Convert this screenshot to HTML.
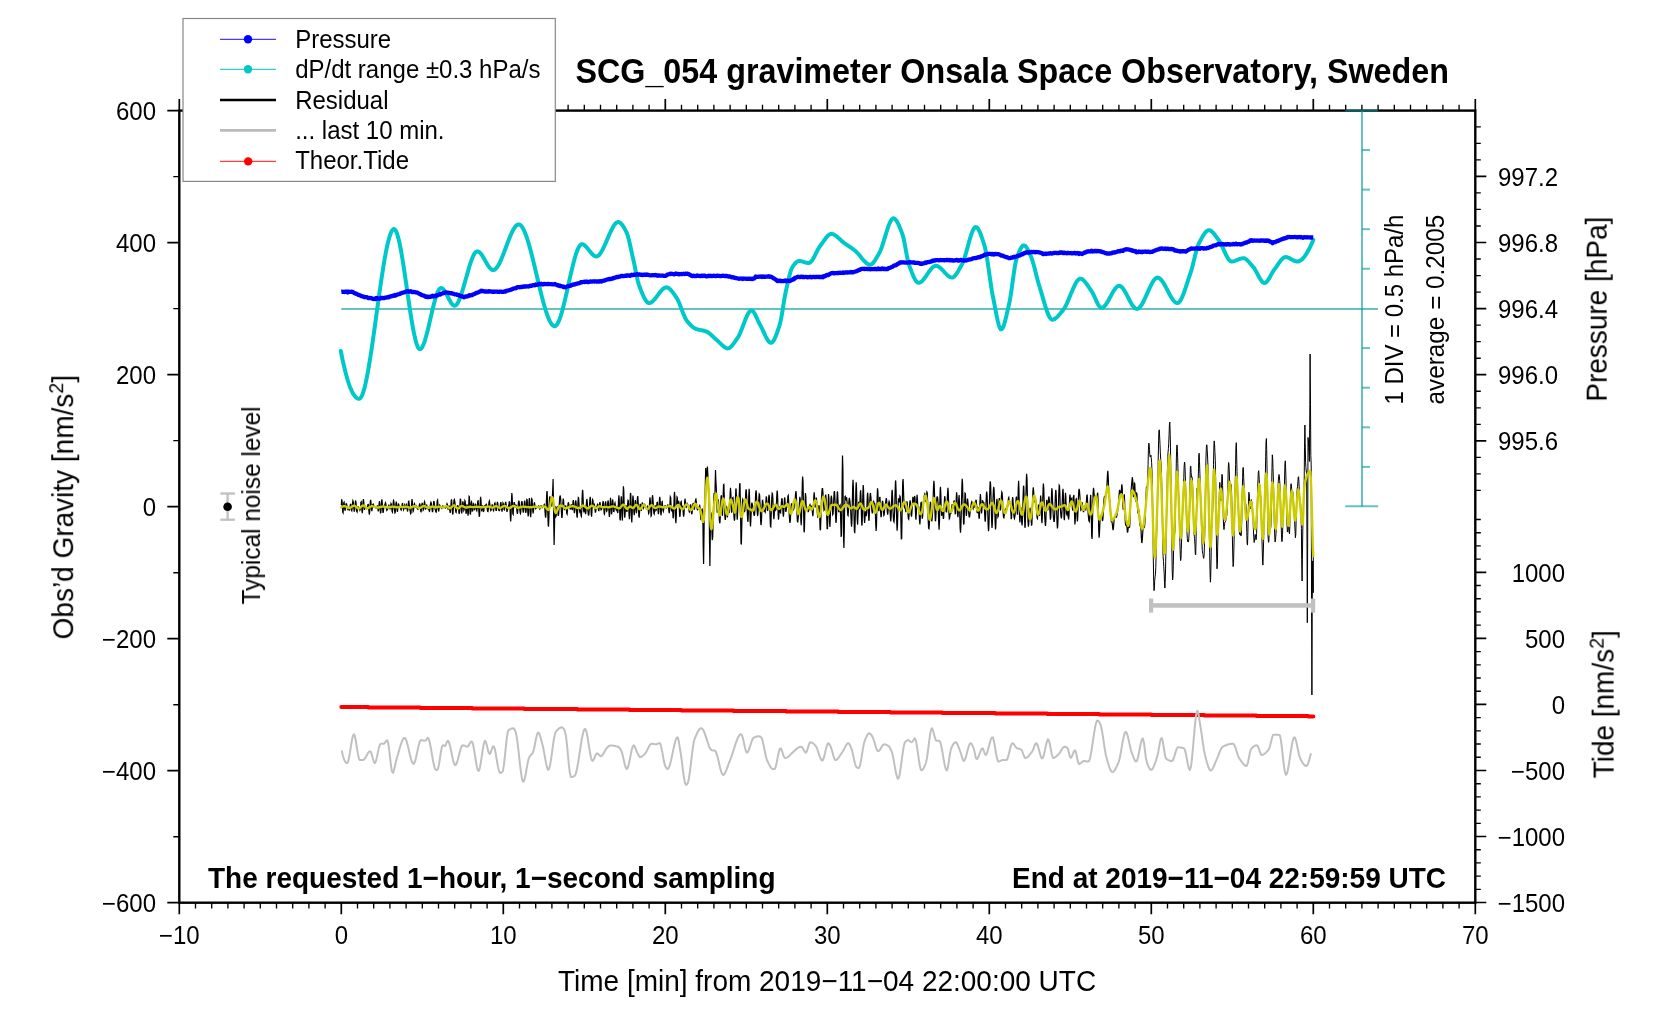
<!DOCTYPE html>
<html><head><meta charset="utf-8"><title>SCG_054 gravimeter</title><style>
html,body{margin:0;padding:0;background:#fff;overflow:hidden;}
svg{display:block;}
text{font-family:"Liberation Sans",sans-serif;fill:#000;}
.b{font-weight:bold;}
</style></head><body>
<svg width="1676" height="1020" viewBox="0 0 1676 1020">
<rect width="1676" height="1020" fill="#fff"/>
<g fill="none" stroke-linejoin="round" stroke-linecap="round">
<polyline points="341.3,707 368.3,707 368.3,707.5 420.3,707.5 420.3,708 472.3,708 472.3,708.5 524.3,708.5 524.3,709 577.3,709 577.3,709.5 629.3,709.5 629.3,710 681.3,710 681.3,710.5 733.3,710.5 733.3,711 786.3,711 786.3,711.5 838.3,711.5 838.3,712 890.3,712 890.3,712.5 942.3,712.5 942.3,713 995.3,713 995.3,713.5 1047.3,713.5 1047.3,714 1099.3,714 1099.3,714.5 1151.3,714.5 1151.3,715 1204.3,715 1204.3,715.5 1256.3,715.5 1256.3,716 1308.3,716 1308.3,716.5 1313.3,716.5" fill="none" stroke="#ff0000" stroke-width="4" stroke-linejoin="round" stroke-linecap="round"/>
<polyline points="341.9,751.2 342.9,755.7 343.9,759 344.9,761.2 345.9,762.5 346.9,763.1 347.9,762.3 348.9,758.6 349.9,752.9 350.9,746.3 351.9,740.2 352.9,735.7 353.9,734.2 354.9,736.3 355.9,741.3 356.9,747.7 357.9,753.9 358.9,758.5 359.9,760.1 360.9,760.1 361.9,760.1 362.9,760.1 363.9,759.6 364.9,758.4 365.9,756.7 366.9,754.9 367.9,753.2 368.9,751.9 369.9,751.2 370.9,751.9 371.9,754.9 372.9,758.8 373.9,762 374.9,763 375.9,761.1 376.9,757.2 377.9,752.4 378.9,747.9 379.9,744.6 380.9,743.7 381.9,743.7 382.9,743.7 383.9,743.7 384.9,742.7 385.9,741.3 386.9,740.2 387.9,741.5 388.9,747.5 389.9,756.2 390.9,765 391.9,771.3 392.9,772.8 393.9,770.6 394.9,766.5 395.9,761.8 396.9,757.7 397.9,754.5 398.9,751.1 399.9,747.6 400.9,744.3 401.9,741.5 402.9,739.3 403.9,738 404.9,737.9 405.9,739.3 406.9,742.2 407.9,746 408.9,750.3 409.9,754.7 410.9,758.6 411.9,761.8 412.9,763.6 413.9,763.8 414.9,761.8 415.9,758.2 416.9,753.6 417.9,748.9 418.9,744.6 419.9,741.4 420.9,740.1 421.9,740.2 422.9,740.4 423.9,740.6 424.9,740.7 425.9,740.4 426.9,738.7 427.9,737.7 428.9,739.3 429.9,743.1 430.9,748.3 431.9,754.2 432.9,760 433.9,765.1 434.9,768.7 435.9,770 436.9,770 437.9,769.3 438.9,765 439.9,758.6 440.9,751.9 441.9,746.8 442.9,745.2 443.9,745.7 444.9,746.1 445.9,744.5 446.9,741.9 447.9,740.7 448.9,742.1 449.9,745.4 450.9,749.8 451.9,754.7 452.9,759.4 453.9,763 454.9,765 455.9,764.8 456.9,762.7 457.9,759.5 458.9,755.6 459.9,751.6 460.9,748.2 461.9,745.9 462.9,745.2 463.9,745.4 464.9,745.9 465.9,746.4 466.9,746.7 467.9,746.3 468.9,744.9 469.9,743.2 470.9,741.7 471.9,741.4 472.9,743.8 473.9,748.7 474.9,754.9 475.9,761.3 476.9,766.9 477.9,770.4 478.9,770.9 479.9,767.7 480.9,762.1 481.9,755.3 482.9,748.7 483.9,743.4 484.9,740.8 485.9,741.9 486.9,745.5 487.9,749.9 488.9,753.3 489.9,754 490.9,752 491.9,748.9 492.9,746.5 493.9,746.4 494.9,749.4 495.9,754.5 496.9,760.5 497.9,766.4 498.9,770.9 499.9,772.9 500.9,772.8 501.9,772.3 502.9,771 503.9,765.1 504.9,756.1 505.9,746.1 506.9,737.1 507.9,731.3 508.9,729.9 509.9,729.3 510.9,728.8 511.9,728.4 512.9,728.2 513.9,728.4 514.9,730.2 515.9,732.9 516.9,738.2 517.9,745.7 518.9,754.6 519.9,763.6 520.9,771.8 521.9,778.2 522.9,781.6 523.9,781.3 524.9,778 525.9,773 526.9,767.2 527.9,761.8 528.9,757.9 529.9,756.1 530.9,755 531.9,754 532.9,752.5 533.9,749.3 534.9,744.5 535.9,739.3 536.9,734.9 537.9,732.5 538.9,732.9 539.9,735.3 540.9,738.8 541.9,742.6 542.9,746.3 543.9,751.3 544.9,757 545.9,762.6 546.9,767.1 547.9,769.7 548.9,769.4 549.9,766 550.9,760.3 551.9,753.3 552.9,745.9 553.9,739.2 554.9,734.2 555.9,731.6 556.9,730.5 557.9,729.5 558.9,728.6 559.9,727.9 560.9,727.5 561.9,727.3 562.9,727.8 563.9,729.3 564.9,731.4 565.9,735.7 566.9,744.2 567.9,754.7 568.9,765.2 569.9,773.3 570.9,777.1 571.9,777 572.9,776.7 573.9,776.3 574.9,775.6 575.9,773.4 576.9,769.3 577.9,763.9 578.9,757.7 579.9,751.1 580.9,744.6 581.9,738.6 582.9,733.7 583.9,730.3 584.9,728.8 585.9,730 586.9,733.8 587.9,739.4 588.9,745.8 589.9,752 590.9,757.2 591.9,760.4 592.9,760.8 593.9,759.2 594.9,756.7 595.9,754.4 596.9,753.3 597.9,753.7 598.9,754.7 599.9,755.8 600.9,756.2 601.9,755.7 602.9,754.5 603.9,752.8 604.9,751 605.9,749.2 606.9,747.8 607.9,746.9 608.9,746.1 609.9,745.6 610.9,745.5 611.9,745.5 612.9,745.6 613.9,745.8 614.9,745.9 615.9,746.2 616.9,746.4 617.9,746.7 618.9,747.3 619.9,748.4 620.9,749.8 621.9,752.3 622.9,756.3 623.9,760.8 624.9,765 625.9,768 626.9,769 627.9,767.4 628.9,763.7 629.9,758.9 630.9,753.7 631.9,749.1 632.9,746 633.9,745.3 634.9,746.8 635.9,749.4 636.9,752 637.9,753.9 638.9,755.8 639.9,757 640.9,757 641.9,756.5 642.9,755.8 643.9,754.9 644.9,753.9 645.9,752.6 646.9,750.7 647.9,748.6 648.9,746.6 649.9,745 650.9,743.9 651.9,743.7 652.9,743.8 653.9,744.1 654.9,744.2 655.9,744.3 656.9,744 657.9,743.6 658.9,743.2 659.9,743.2 660.9,745.6 661.9,750.1 662.9,755.6 663.9,761.1 664.9,765.3 665.9,767.4 666.9,768.7 667.9,769 668.9,767.7 669.9,764.9 670.9,761 671.9,756.5 672.9,751.6 673.9,746.9 674.9,742.7 675.9,739.4 676.9,737.5 677.9,737.6 678.9,741.9 679.9,748.4 680.9,754.4 681.9,761.7 682.9,769.8 683.9,777.3 684.9,782.8 685.9,784.9 686.9,784.4 687.9,782.9 688.9,778.5 689.9,771.6 690.9,763.4 691.9,755 692.9,747.3 693.9,741.5 694.9,738.3 695.9,735.8 696.9,733.6 697.9,731.6 698.9,730 699.9,728.9 700.9,728.3 701.9,728.3 702.9,729.4 703.9,731.3 704.9,733.9 705.9,736.8 706.9,739.9 707.9,743 708.9,745.8 709.9,748.1 710.9,749.6 711.9,750.3 712.9,750.4 713.9,750.5 714.9,750.6 715.9,751.8 716.9,754.6 717.9,758.3 718.9,762.6 719.9,766.9 720.9,770.7 721.9,773.5 722.9,775 723.9,774.7 724.9,773.4 725.9,771.2 726.9,768.6 727.9,765.8 728.9,763 729.9,760.6 730.9,758.1 731.9,755.2 732.9,752.2 733.9,749 734.9,745.9 735.9,742.9 736.9,740.2 737.9,737.8 738.9,736 739.9,734.7 740.9,734.2 741.9,735.1 742.9,738.3 743.9,742.7 744.9,747.3 745.9,750.9 746.9,752.6 747.9,752 748.9,749.9 749.9,746.9 750.9,743.7 751.9,740.7 752.9,738.5 753.9,737.6 754.9,737.2 755.9,736.8 756.9,736.5 757.9,736.3 758.9,736.2 759.9,736.5 760.9,737 761.9,738.6 762.9,742.1 763.9,746.8 764.9,751.9 765.9,756.5 766.9,759.8 767.9,762 768.9,764.1 769.9,766 770.9,767.6 771.9,768.6 772.9,769.1 773.9,769.1 774.9,768.8 775.9,766.1 776.9,761.5 777.9,756.3 778.9,751.6 779.9,748.7 780.9,748.5 781.9,750.6 782.9,753.8 783.9,756.7 784.9,758 785.9,757.9 786.9,757.6 787.9,757.1 788.9,756.3 789.9,755.2 790.9,754.1 791.9,753.2 792.9,752.3 793.9,751.3 794.9,750.4 795.9,749.5 796.9,748.6 797.9,747.9 798.9,747.3 799.9,746.9 800.9,746.7 801.9,747 802.9,748.4 803.9,750.3 804.9,752 805.9,752.6 806.9,751.1 807.9,747.9 808.9,744.6 809.9,742.4 810.9,742.3 811.9,742.6 812.9,743.2 813.9,744.1 814.9,745.1 815.9,746.3 816.9,747.9 817.9,750.9 818.9,754.2 819.9,757 820.9,759.1 821.9,760.6 822.9,760.1 823.9,757.4 824.9,753.5 825.9,749.2 826.9,745.5 827.9,743.3 828.9,743.5 829.9,745.1 830.9,747.2 831.9,750.4 832.9,754.1 833.9,757.5 834.9,759.7 835.9,760.1 836.9,759.5 837.9,758.5 838.9,757.2 839.9,755.7 840.9,754.2 841.9,752.7 842.9,751.2 843.9,749.4 844.9,747.4 845.9,745.5 846.9,744 847.9,743.2 848.9,743.4 849.9,745 850.9,747.3 851.9,749.9 852.9,754.1 853.9,758.8 854.9,763.3 855.9,766.3 856.9,767.4 857.9,768 858.9,768.1 859.9,765.9 860.9,761.2 861.9,755.2 862.9,748.9 863.9,743.6 864.9,740.3 865.9,737.9 866.9,735.8 867.9,734.1 868.9,733.3 869.9,733.5 870.9,734.5 871.9,735.9 872.9,737.6 873.9,740.5 874.9,743.8 875.9,747.1 876.9,749.8 877.9,751.1 878.9,750.9 879.9,749.7 880.9,748.1 881.9,746.4 882.9,745 883.9,744.3 884.9,744.4 885.9,744.6 886.9,745.1 887.9,745.6 888.9,746.3 889.9,747.7 890.9,749.7 891.9,752.1 892.9,756.1 893.9,761.4 894.9,767.2 895.9,772.6 896.9,776.8 897.9,778.8 898.9,777.7 899.9,773.2 900.9,766.5 901.9,758.9 902.9,751.5 903.9,745.6 904.9,742.3 905.9,741.2 906.9,740.5 907.9,740.1 908.9,740.4 909.9,741.2 910.9,741.9 911.9,742.2 912.9,741.1 913.9,739.2 914.9,738.3 915.9,740.6 916.9,745.9 917.9,752.8 918.9,760.1 919.9,766.3 920.9,770 921.9,770.4 922.9,769.4 923.9,767.7 924.9,765.5 925.9,763 926.9,758.6 927.9,751.5 928.9,743.4 929.9,735.8 930.9,730.2 931.9,728.2 932.9,730 933.9,733.7 934.9,737.7 935.9,740.4 936.9,740.7 937.9,740.7 938.9,740.7 939.9,741.3 940.9,744.3 941.9,749.1 942.9,754.9 943.9,760.8 944.9,765.9 945.9,769.5 946.9,770.5 947.9,767.4 948.9,761.2 949.9,754.3 950.9,749.1 951.9,746.8 952.9,744.9 953.9,743.4 954.9,742.5 955.9,742.2 956.9,743.2 957.9,745.3 958.9,747.9 959.9,750.5 960.9,753.3 961.9,756.9 962.9,759.9 963.9,761 964.9,759.7 965.9,756.9 966.9,753.2 967.9,749.3 968.9,745.9 969.9,743.7 970.9,743.2 971.9,744.4 972.9,746.5 973.9,749 974.9,753.6 975.9,758 976.9,759.1 977.9,757.8 978.9,755.5 979.9,752.8 980.9,750.3 981.9,748.5 982.9,748.4 983.9,751.1 984.9,754.2 985.9,754.9 986.9,753.2 987.9,750.1 988.9,746.4 989.9,742.5 990.9,739.3 991.9,737.4 992.9,737.6 993.9,741 994.9,746.4 995.9,752.5 996.9,757.9 997.9,761.2 998.9,761.5 999.9,761.1 1000.9,760.6 1001.9,760.2 1002.9,760.1 1003.9,760.1 1004.9,760.1 1005.9,760.1 1006.9,759.8 1007.9,757.5 1008.9,753.7 1009.9,749.5 1010.9,745.8 1011.9,743.4 1012.9,743.3 1013.9,744.3 1014.9,745.8 1015.9,747.3 1016.9,748.2 1017.9,748.6 1018.9,748.8 1019.9,749.1 1020.9,749.4 1021.9,750.4 1022.9,753 1023.9,756 1024.9,757.9 1025.9,757.9 1026.9,757.5 1027.9,756.7 1028.9,755.7 1029.9,754.5 1030.9,753.2 1031.9,751.8 1032.9,750.2 1033.9,747.6 1034.9,744.9 1035.9,743.3 1036.9,743.6 1037.9,746 1038.9,749.5 1039.9,753.4 1040.9,756.7 1041.9,758.5 1042.9,757.9 1043.9,754.9 1044.9,750.4 1045.9,745.6 1046.9,741.5 1047.9,739.4 1048.9,740.2 1049.9,744.2 1050.9,749.6 1051.9,754.7 1052.9,757.7 1053.9,757.9 1054.9,757.5 1055.9,756.7 1056.9,755.8 1057.9,754.8 1058.9,753.9 1059.9,752.6 1060.9,750.9 1061.9,749.3 1062.9,747.8 1063.9,746.9 1064.9,746.7 1065.9,747 1066.9,747.6 1067.9,748.7 1068.9,752.6 1069.9,756.9 1070.9,757.9 1071.9,756.4 1072.9,753.9 1073.9,751.5 1074.9,750.3 1075.9,752 1076.9,756.7 1077.9,761.7 1078.9,764 1079.9,763.7 1080.9,763 1081.9,762.1 1082.9,761.4 1083.9,761 1084.9,761.1 1085.9,761.2 1086.9,761.4 1087.9,761.6 1088.9,761.3 1089.9,758.8 1090.9,754.1 1091.9,748 1092.9,741.3 1093.9,734.5 1094.9,728.3 1095.9,723.6 1096.9,720.8 1097.9,720.6 1098.9,721.6 1099.9,723.3 1100.9,725.7 1101.9,730.2 1102.9,736.4 1103.9,743.2 1104.9,749.8 1105.9,755.3 1106.9,759 1107.9,762.5 1108.9,765.8 1109.9,768.7 1110.9,770.8 1111.9,771.9 1112.9,771.9 1113.9,771.2 1114.9,769.9 1115.9,768.1 1116.9,766.1 1117.9,764 1118.9,761.4 1119.9,757.2 1120.9,751.9 1121.9,746.1 1122.9,740.6 1123.9,735.9 1124.9,732.7 1125.9,731.8 1126.9,733.3 1127.9,736.7 1128.9,741.1 1129.9,745.8 1130.9,750 1131.9,753.1 1132.9,755.8 1133.9,758.4 1134.9,760.5 1135.9,761.5 1136.9,760.9 1137.9,757.7 1138.9,753 1139.9,747.7 1140.9,742.9 1141.9,739.4 1142.9,738.4 1143.9,742.5 1144.9,750.2 1145.9,758 1146.9,762.4 1147.9,765.1 1148.9,767.4 1149.9,769.1 1150.9,769.9 1151.9,769.6 1152.9,768.3 1153.9,766.2 1154.9,763.6 1155.9,760.6 1156.9,757.6 1157.9,753.8 1158.9,748.2 1159.9,742.6 1160.9,738.6 1161.9,738.1 1162.9,742 1163.9,748.5 1164.9,754.8 1165.9,758.5 1166.9,759.2 1167.9,759.8 1168.9,760.3 1169.9,760.7 1170.9,760.9 1171.9,761 1172.9,760.2 1173.9,757.7 1174.9,754.4 1175.9,751.1 1176.9,748.4 1177.9,747.3 1178.9,747.3 1179.9,747.4 1180.9,747.5 1181.9,747.7 1182.9,747.9 1183.9,748.2 1184.9,749.9 1185.9,754 1186.9,759.2 1187.9,764.4 1188.9,768.4 1189.9,770 1190.9,767 1191.9,759.3 1192.9,748.7 1193.9,736.8 1194.9,725.4 1195.9,716.2 1196.9,710.9 1197.9,711.2 1198.9,716.3 1199.9,723.1 1200.9,729.2 1201.9,736.1 1202.9,743.2 1203.9,749.7 1204.9,754.5 1205.9,758.4 1206.9,762.2 1207.9,765.6 1208.9,768.3 1209.9,770 1210.9,770.5 1211.9,769.8 1212.9,768.2 1213.9,766 1214.9,763.6 1215.9,761.1 1216.9,758.9 1217.9,756.6 1218.9,754 1219.9,751.4 1220.9,749.2 1221.9,747.5 1222.9,746.6 1223.9,746.1 1224.9,745.6 1225.9,745.2 1226.9,744.8 1227.9,744.5 1228.9,744.2 1229.9,744 1230.9,743.9 1231.9,743.7 1232.9,743.7 1233.9,744.2 1234.9,746.1 1235.9,749 1236.9,752.2 1237.9,755.3 1238.9,757.7 1239.9,759.2 1240.9,760.7 1241.9,762.2 1242.9,763.5 1243.9,764.6 1244.9,765.5 1245.9,766 1246.9,765.8 1247.9,762.8 1248.9,757.8 1249.9,752.6 1250.9,749.3 1251.9,748.1 1252.9,747.2 1253.9,746.4 1254.9,745.8 1255.9,745.4 1256.9,745.2 1257.9,746.2 1258.9,748.9 1259.9,752.2 1260.9,754.6 1261.9,755 1262.9,754.8 1263.9,754.3 1264.9,753.6 1265.9,752.7 1266.9,751.6 1267.9,750.4 1268.9,749.1 1269.9,746.6 1270.9,742.5 1271.9,738.2 1272.9,735.2 1273.9,734.7 1274.9,734.7 1275.9,734.7 1276.9,734.7 1277.9,734.7 1278.9,734.7 1279.9,735.4 1280.9,740.1 1281.9,747.9 1282.9,756.9 1283.9,765.6 1284.9,772.2 1285.9,775 1286.9,773.7 1287.9,769.8 1288.9,764.2 1289.9,757.7 1290.9,750.9 1291.9,744.8 1292.9,740 1293.9,737.4 1294.9,737.6 1295.9,740.3 1296.9,744.6 1297.9,749.5 1298.9,754.2 1299.9,757.8 1300.9,759.8 1301.9,761.6 1302.9,763.2 1303.9,764.6 1304.9,765.5 1305.9,766 1306.9,765.7 1307.9,764.1 1308.9,761.2 1309.9,757.6 1310.8,754.1" stroke="#c0c0c0" stroke-width="2"/>
<line x1="341.3" y1="309" x2="1378" y2="309" stroke="#009a9a" stroke-opacity="0.6" stroke-width="2" stroke-linecap="butt"/>
<polyline points="340.8,351 341.8,356 342.8,360.8 343.8,365.3 344.8,369.5 345.8,373.4 346.8,377.1 347.8,380.5 348.8,383.6 349.8,386.4 350.8,388.9 351.8,391.1 352.8,393.1 353.8,394.7 354.8,396.1 355.8,397.2 356.8,398 357.8,398.6 358.8,398.8 359.8,398.6 360.8,397.6 361.8,395.9 362.8,393.5 363.8,390.4 364.8,386.7 365.8,382.4 366.8,377.7 367.8,372.4 368.8,366.7 369.8,360.7 370.8,354.3 371.8,347.7 372.8,340.8 373.8,333.8 374.8,326.6 375.8,319.4 376.8,312.1 377.8,304.8 378.8,297.6 379.8,290.5 380.8,283.5 381.8,276.7 382.8,270.2 383.8,264 384.8,258.2 385.8,252.7 386.8,247.7 387.8,243.2 388.8,239.2 389.8,235.8 390.8,233 391.8,230.9 392.8,229.6 393.8,229 394.8,229.3 395.8,230.7 396.8,232.9 397.8,236 398.8,239.9 399.8,244.4 400.8,249.5 401.8,255.1 402.8,261.2 403.8,267.6 404.8,274.3 405.8,281.1 406.8,288.1 407.8,295 408.8,301.9 409.8,308.6 410.8,315.1 411.8,321.3 412.8,327.1 413.8,332.3 414.8,337.1 415.8,341.1 416.8,344.4 417.8,347 418.8,348.6 419.8,349.2 420.8,348.9 421.8,347.8 422.8,346 423.8,343.7 424.8,340.8 425.8,337.5 426.8,333.8 427.8,329.9 428.8,325.7 429.8,321.4 430.8,317.1 431.8,312.8 432.8,308.5 433.8,304.5 434.8,300.7 435.8,297.3 436.8,294.3 437.8,291.8 438.8,289.9 439.8,288.6 440.8,288 441.8,288.2 442.8,288.8 443.8,289.9 444.8,291.4 445.8,293.1 446.8,294.9 447.8,296.8 448.8,298.8 449.8,300.6 450.8,302.3 451.8,303.8 452.8,304.9 453.8,305.5 454.8,305.7 455.8,305.3 456.8,304.3 457.8,302.8 458.8,300.8 459.8,298.4 460.8,295.7 461.8,292.8 462.8,289.5 463.8,286.1 464.8,282.6 465.8,279 466.8,275.5 467.8,271.9 468.8,268.5 469.8,265.2 470.8,262.1 471.8,259.3 472.8,256.9 473.8,254.8 474.8,253.1 475.8,252 476.8,251.4 477.8,251.4 478.8,251.8 479.8,252.5 480.8,253.6 481.8,255 482.8,256.5 483.8,258.2 484.8,259.9 485.8,261.7 486.8,263.4 487.8,265.1 488.8,266.6 489.8,267.9 490.8,268.9 491.8,269.7 492.8,270.1 493.8,270 494.8,269.6 495.8,268.8 496.8,267.6 497.8,266.2 498.8,264.5 499.8,262.5 500.8,260.3 501.8,258 502.8,255.5 503.8,253 504.8,250.3 505.8,247.7 506.8,245 507.8,242.3 508.8,239.7 509.8,237.2 510.8,234.8 511.8,232.6 512.8,230.6 513.8,228.8 514.8,227.3 515.8,226 516.8,225.1 517.8,224.6 518.8,224.4 519.8,224.7 520.8,225.4 521.8,226.5 522.8,228.1 523.8,230 524.8,232.2 525.8,234.7 526.8,237.5 527.8,240.6 528.8,243.9 529.8,247.5 530.8,251.2 531.8,255 532.8,259 533.8,263.1 534.8,267.3 535.8,271.5 536.8,275.7 537.8,280 538.8,284.2 539.8,288.3 540.8,292.4 541.8,296.4 542.8,300.2 543.8,303.9 544.8,307.3 545.8,310.6 546.8,313.6 547.8,316.4 548.8,318.9 549.8,321.1 550.8,322.9 551.8,324.3 552.8,325.4 553.8,326 554.8,326.2 555.8,325.8 556.8,324.8 557.8,323.2 558.8,321.2 559.8,318.6 560.8,315.7 561.8,312.4 562.8,308.7 563.8,304.8 564.8,300.7 565.8,296.4 566.8,292 567.8,287.5 568.8,282.9 569.8,278.4 570.8,274 571.8,269.7 572.8,265.6 573.8,261.7 574.8,258 575.8,254.7 576.8,251.8 577.8,249.2 578.8,247.2 579.8,245.6 580.8,244.6 581.8,244.2 582.8,244.3 583.8,244.8 584.8,245.5 585.8,246.4 586.8,247.5 587.8,248.7 588.8,250 589.8,251.2 590.8,252.5 591.8,253.6 592.8,254.7 593.8,255.5 594.8,256.1 595.8,256.5 596.8,256.4 597.8,256 598.8,255.3 599.8,254.2 600.8,252.8 601.8,251.1 602.8,249.2 603.8,247.2 604.8,245 605.8,242.8 606.8,240.4 607.8,238.1 608.8,235.7 609.8,233.5 610.8,231.3 611.8,229.3 612.8,227.4 613.8,225.7 614.8,224.3 615.8,223.2 616.8,222.5 617.8,222.1 618.8,222.1 619.8,222.5 620.8,223.3 621.8,224.4 622.8,225.7 623.8,227.3 624.8,229.1 625.8,230.9 626.8,232.9 627.8,235.7 628.8,239.4 629.8,243.7 630.8,248.2 631.8,252.9 632.8,257.4 633.8,261.7 634.8,266.6 635.8,271.6 636.8,276.4 637.8,280.9 638.8,284.6 639.8,287.3 640.8,289.9 641.8,292.4 642.8,294.7 643.8,296.9 644.8,298.8 645.8,300.5 646.8,301.8 647.8,302.7 648.8,303.1 649.8,303 650.8,302.7 651.8,302.1 652.8,301.2 653.8,300.2 654.8,299.1 655.8,297.8 656.8,296.5 657.8,295.1 658.8,293.8 659.8,292.4 660.8,291.2 661.8,290.1 662.8,289.1 663.8,288.3 664.8,287.7 665.8,287.4 666.8,287.3 667.8,287.6 668.8,288.2 669.8,289 670.8,290 671.8,291.2 672.8,292.4 673.8,293.8 674.8,295.2 675.8,296.6 676.8,298.1 677.8,299.9 678.8,302.1 679.8,304.6 680.8,307.2 681.8,309.8 682.8,312.4 683.8,314.9 684.8,317.2 685.8,319.1 686.8,320.7 687.8,321.9 688.8,323.1 689.8,324.2 690.8,325.3 691.8,326.2 692.8,327.1 693.8,327.8 694.8,328.4 695.8,328.8 696.8,329.2 697.8,329.5 698.8,329.7 699.8,329.9 700.8,330.1 701.8,330.3 702.8,330.5 703.8,330.7 704.8,331 705.8,331.3 706.8,331.7 707.8,332.3 708.8,332.9 709.8,333.7 710.8,334.6 711.8,335.5 712.8,336.4 713.8,337.4 714.8,338.3 715.8,339.2 716.8,340 717.8,340.9 718.8,341.8 719.8,342.8 720.8,343.8 721.8,344.8 722.8,345.7 723.8,346.6 724.8,347.3 725.8,347.9 726.8,348.3 727.8,348.4 728.8,348.2 729.8,347.7 730.8,346.9 731.8,345.9 732.8,344.7 733.8,343.3 734.8,341.9 735.8,340.4 736.8,339 737.8,337.6 738.8,335.9 739.8,333.8 740.8,331.5 741.8,329 742.8,326.3 743.8,323.7 744.8,321 745.8,318.5 746.8,316.2 747.8,314.2 748.8,312.5 749.8,311.3 750.8,310.6 751.8,310.4 752.8,311 753.8,312.2 754.8,313.8 755.8,315.8 756.8,318 757.8,320.3 758.8,322.4 759.8,324.4 760.8,326.1 761.8,328.1 762.8,330.2 763.8,332.4 764.8,334.5 765.8,336.6 766.8,338.5 767.8,340.2 768.8,341.5 769.8,342.4 770.8,342.8 771.8,342.6 772.8,341.7 773.8,340.3 774.8,338.3 775.8,336 776.8,333.4 777.8,330.5 778.8,327.5 779.8,324.5 780.8,320.3 781.8,314.9 782.8,308.9 783.8,302.6 784.8,296.7 785.8,291.5 786.8,287.1 787.8,282.6 788.8,278.2 789.8,274.3 790.8,270.8 791.8,268.2 792.8,266.5 793.8,265.1 794.8,263.8 795.8,262.7 796.8,261.9 797.8,261.3 798.8,261 799.8,261 800.8,261.2 801.8,261.4 802.8,261.7 803.8,262 804.8,262.3 805.8,262.6 806.8,262.8 807.8,263 808.8,263 809.8,262.7 810.8,261.9 811.8,260.8 812.8,259.3 813.8,257.6 814.8,255.7 815.8,253.7 816.8,251.7 817.8,249.8 818.8,248 819.8,246.4 820.8,245 821.8,243.7 822.8,242.3 823.8,240.9 824.8,239.5 825.8,238.1 826.8,236.9 827.8,235.8 828.8,234.9 829.8,234.3 830.8,233.9 831.8,233.9 832.8,234.1 833.8,234.5 834.8,235.1 835.8,235.7 836.8,236.5 837.8,237.4 838.8,238.3 839.8,239.2 840.8,240.1 841.8,241.1 842.8,241.9 843.8,242.7 844.8,243.5 845.8,244.1 846.8,244.8 847.8,245.5 848.8,246.2 849.8,246.8 850.8,247.5 851.8,248.2 852.8,249 853.8,249.7 854.8,250.5 855.8,251.3 856.8,252.3 857.8,253.3 858.8,254.5 859.8,255.7 860.8,256.9 861.8,258.2 862.8,259.4 863.8,260.5 864.8,261.6 865.8,262.5 866.8,263.4 867.8,264 868.8,264.5 869.8,264.7 870.8,264.6 871.8,264.1 872.8,263.2 873.8,262 874.8,260.6 875.8,259 876.8,257.3 877.8,255.6 878.8,253.9 879.8,252 880.8,249.7 881.8,247 882.8,244 883.8,240.8 884.8,237.6 885.8,234.3 886.8,231.1 887.8,228 888.8,225.2 889.8,222.8 890.8,220.8 891.8,219.3 892.8,218.5 893.8,218.3 894.8,218.8 895.8,219.8 896.8,221.2 897.8,223 898.8,225.1 899.8,227.5 900.8,230 901.8,232.6 902.8,235.4 903.8,239.3 904.8,244.3 905.8,249.8 906.8,255.3 907.8,260.3 908.8,264.1 909.8,266.9 910.8,269.6 911.8,272.3 912.8,274.8 913.8,277.1 914.8,279 915.8,280.7 916.8,281.9 917.8,282.6 918.8,282.8 919.8,282.6 920.8,282 921.8,281.3 922.8,280.3 923.8,279.1 924.8,277.8 925.8,276.4 926.8,275 927.8,273.5 928.8,272 929.8,270.7 930.8,269.4 931.8,268.2 932.8,267.2 933.8,266.5 934.8,266 935.8,265.8 936.8,265.9 937.8,266.3 938.8,266.8 939.8,267.5 940.8,268.4 941.8,269.4 942.8,270.4 943.8,271.5 944.8,272.6 945.8,273.7 946.8,274.7 947.8,275.6 948.8,276.4 949.8,277 950.8,277.4 951.8,277.6 952.8,277.5 953.8,276.9 954.8,276 955.8,274.8 956.8,273.4 957.8,271.8 958.8,270.1 959.8,268.3 960.8,266.5 961.8,264.7 962.8,262.7 963.8,260.1 964.8,257 965.8,253.7 966.8,250.1 967.8,246.5 968.8,242.8 969.8,239.3 970.8,236 971.8,233.1 972.8,230.6 973.8,228.7 974.8,227.4 975.8,227 976.8,227.4 977.8,228.4 978.8,230 979.8,232.1 980.8,234.5 981.8,237.3 982.8,240.3 983.8,243.4 984.8,246.7 985.8,251.1 986.8,256.8 987.8,263.2 988.8,270.1 989.8,277.2 990.8,284.1 991.8,290.5 992.8,296 993.8,301 994.8,306.2 995.8,311.5 996.8,316.6 997.8,321.2 998.8,325.1 999.8,327.8 1000.8,329.3 1001.8,329.2 1002.8,327.8 1003.8,325.4 1004.8,322.2 1005.8,318.3 1006.8,314.1 1007.8,309.6 1008.8,305.2 1009.8,300.7 1010.8,294.7 1011.8,287.9 1012.8,280.6 1013.8,273.4 1014.8,266.8 1015.8,261.5 1016.8,257.9 1017.8,255.2 1018.8,252.6 1019.8,250.3 1020.8,248.3 1021.8,246.8 1022.8,245.7 1023.8,245.3 1024.8,245.6 1025.8,246.5 1026.8,247.9 1027.8,249.7 1028.8,251.8 1029.8,253.9 1030.8,256.1 1031.8,258.6 1032.8,261.7 1033.8,265.2 1034.8,269.1 1035.8,273.1 1036.8,277 1037.8,280.9 1038.8,284.4 1039.8,287.5 1040.8,290.7 1041.8,294.1 1042.8,297.6 1043.8,301.1 1044.8,304.5 1045.8,307.7 1046.8,310.7 1047.8,313.4 1048.8,315.7 1049.8,317.6 1050.8,318.9 1051.8,319.6 1052.8,319.7 1053.8,319.4 1054.8,318.9 1055.8,318.2 1056.8,317.3 1057.8,316.3 1058.8,315.2 1059.8,314 1060.8,312.8 1061.8,311.6 1062.8,310.4 1063.8,309.1 1064.8,307.5 1065.8,305.7 1066.8,303.6 1067.8,301.4 1068.8,299 1069.8,296.6 1070.8,294.1 1071.8,291.7 1072.8,289.3 1073.8,287.1 1074.8,285 1075.8,283.1 1076.8,281.5 1077.8,280.2 1078.8,279.3 1079.8,278.8 1080.8,278.7 1081.8,279 1082.8,279.7 1083.8,280.5 1084.8,281.6 1085.8,282.9 1086.8,284.2 1087.8,285.7 1088.8,287.2 1089.8,288.6 1090.8,290.1 1091.8,291.5 1092.8,293.2 1093.8,295.3 1094.8,297.5 1095.8,299.7 1096.8,301.9 1097.8,303.9 1098.8,305.6 1099.8,306.9 1100.8,307.6 1101.8,307.8 1102.8,307.5 1103.8,306.8 1104.8,305.8 1105.8,304.5 1106.8,303.1 1107.8,301.4 1108.8,299.7 1109.8,297.8 1110.8,296 1111.8,294.1 1112.8,292.3 1113.8,290.7 1114.8,289.2 1115.8,287.9 1116.8,286.9 1117.8,286.2 1118.8,285.8 1119.8,285.9 1120.8,286.3 1121.8,287.1 1122.8,288.3 1123.8,289.7 1124.8,291.3 1125.8,293 1126.8,294.9 1127.8,296.9 1128.8,298.8 1129.8,300.7 1130.8,302.6 1131.8,304.3 1132.8,305.8 1133.8,307 1134.8,308 1135.8,308.6 1136.8,308.9 1137.8,308.7 1138.8,308.2 1139.8,307.2 1140.8,306 1141.8,304.5 1142.8,302.7 1143.8,300.8 1144.8,298.7 1145.8,296.5 1146.8,294.3 1147.8,292 1148.8,289.8 1149.8,287.6 1150.8,285.5 1151.8,283.6 1152.8,281.9 1153.8,280.4 1154.8,279.2 1155.8,278.3 1156.8,277.7 1157.8,277.6 1158.8,277.9 1159.8,278.5 1160.8,279.4 1161.8,280.6 1162.8,282 1163.8,283.5 1164.8,285.3 1165.8,287.1 1166.8,289 1167.8,290.9 1168.8,292.8 1169.8,294.7 1170.8,296.5 1171.8,298.1 1172.8,299.6 1173.8,300.9 1174.8,301.9 1175.8,302.6 1176.8,303 1177.8,303.1 1178.8,302.5 1179.8,301.4 1180.8,299.9 1181.8,297.9 1182.8,295.6 1183.8,293 1184.8,290.2 1185.8,287.3 1186.8,284.2 1187.8,281.1 1188.8,278 1189.8,275 1190.8,272.1 1191.8,268.8 1192.8,265 1193.8,260.9 1194.8,256.8 1195.8,252.8 1196.8,249.2 1197.8,246 1198.8,243.5 1199.8,241.6 1200.8,239.7 1201.8,237.9 1202.8,236.1 1203.8,234.6 1204.8,233.2 1205.8,232 1206.8,231.1 1207.8,230.5 1208.8,230.2 1209.8,230.3 1210.8,230.8 1211.8,231.5 1212.8,232.4 1213.8,233.6 1214.8,234.8 1215.8,236.2 1216.8,237.5 1217.8,238.9 1218.8,240.2 1219.8,241.7 1220.8,243.5 1221.8,245.5 1222.8,247.7 1223.8,249.9 1224.8,252.2 1225.8,254.3 1226.8,256.3 1227.8,258.1 1228.8,259.6 1229.8,260.7 1230.8,261.4 1231.8,261.5 1232.8,261.4 1233.8,261.2 1234.8,260.9 1235.8,260.5 1236.8,260.1 1237.8,259.7 1238.8,259.3 1239.8,258.9 1240.8,258.6 1241.8,258.4 1242.8,258.2 1243.8,258.2 1244.8,258.5 1245.8,259 1246.8,259.8 1247.8,260.8 1248.8,261.8 1249.8,263 1250.8,264.2 1251.8,265.4 1252.8,266.6 1253.8,267.7 1254.8,269.2 1255.8,270.9 1256.8,272.7 1257.8,274.6 1258.8,276.5 1259.8,278.3 1260.8,279.9 1261.8,281.3 1262.8,282.3 1263.8,282.9 1264.8,283 1265.8,282.6 1266.8,281.7 1267.8,280.4 1268.8,278.9 1269.8,277.2 1270.8,275.4 1271.8,273.6 1272.8,271.8 1273.8,270.2 1274.8,268.9 1275.8,267.6 1276.8,266.2 1277.8,264.7 1278.8,263.2 1279.8,261.8 1280.8,260.5 1281.8,259.3 1282.8,258.3 1283.8,257.6 1284.8,257.2 1285.8,257.1 1286.8,257.2 1287.8,257.5 1288.8,257.9 1289.8,258.4 1290.8,259 1291.8,259.5 1292.8,260.1 1293.8,260.6 1294.8,261 1295.8,261.3 1296.8,261.5 1297.8,261.5 1298.8,261.3 1299.8,260.9 1300.8,260.3 1301.8,259.5 1302.8,258.5 1303.8,257.4 1304.8,256.1 1305.8,254.6 1306.8,253.1 1307.8,251.3 1308.8,249.5 1309.8,247.6 1310.8,245.5 1311.8,243.3 1312.8,241.1 1313.3,239.9" stroke="#00c8c8" stroke-width="4"/>
<polyline points="341.3,291.8 342.1,291.7 342.9,291.9 343.7,291.8 344.5,292 345.3,291.7 346.1,291.9 346.9,291.7 347.7,292.4 348.5,291.6 349.3,291.9 350.1,291.9 350.9,291.9 351.7,291.7 352.5,291.8 353.3,292.3 354.1,293 354.9,293.3 355.7,293.8 356.5,293.7 357.3,294.2 358.1,294.8 358.9,295 359.7,295.3 360.5,295.6 361.3,296.1 362.1,296.2 362.9,296.6 363.7,296.6 364.5,297.1 365.3,297.2 366.1,297.2 366.9,297.2 367.7,297.6 368.5,298.1 369.3,297.8 370.1,298.2 370.9,298 371.7,298.3 372.5,298.7 373.3,299 374.1,298.9 374.9,298.6 375.7,299 376.5,298 377.3,298.2 378.1,298.7 378.9,298.7 379.7,298.7 380.5,298.1 381.3,298 382.1,297.9 382.9,298 383.7,298.2 384.5,297.9 385.3,297.7 386.1,297.7 386.9,297.3 387.7,297.2 388.5,297.3 389.3,296.6 390.1,296.6 390.9,296.2 391.7,296.4 392.5,295.8 393.3,295.6 394.1,295.8 394.9,295 395.7,295.5 396.5,295 397.3,294.6 398.1,294.3 398.9,294.2 399.7,293.9 400.5,293.4 401.3,293.3 402.1,292.8 402.9,292.7 403.7,292.5 404.5,292.2 405.3,291.9 406.1,291.7 406.9,291.3 407.7,291.1 408.5,291.6 409.3,291.7 410.1,291.3 410.9,291.2 411.7,291.9 412.5,292.2 413.3,291.9 414.1,292.1 414.9,292.1 415.7,292.3 416.5,292.3 417.3,292.8 418.1,293.1 418.9,293.5 419.7,294 420.5,294.1 421.3,294.9 422.1,295.1 422.9,295.5 423.7,295.7 424.5,295.9 425.3,296.6 426.1,296.9 426.9,296.4 427.7,297.1 428.5,297.1 429.3,296.6 430.1,296.7 430.9,296.8 431.7,296.5 432.5,295.7 433.3,296.5 434.1,295.8 434.9,296 435.7,296.3 436.5,295.5 437.3,295.1 438.1,295.1 438.9,294.7 439.7,294 440.5,294.5 441.3,293.8 442.1,293.5 442.9,293.3 443.7,293 444.5,292.9 445.3,292.3 446.1,292.3 446.9,292.6 447.7,292.7 448.5,293 449.3,292.8 450.1,293.2 450.9,293.4 451.7,293.2 452.5,293.6 453.3,293.7 454.1,294.1 454.9,294.4 455.7,294.4 456.5,294.4 457.3,294.9 458.1,295 458.9,295.2 459.7,295.9 460.5,296 461.3,296.1 462.1,296.2 462.9,296.8 463.7,297.3 464.5,296.9 465.3,296.6 466.1,296.5 466.9,296.5 467.7,296.2 468.5,295.9 469.3,295.2 470.1,295.6 470.9,295.3 471.7,295 472.5,295 473.3,294.3 474.1,294.1 474.9,293.8 475.7,293.1 476.5,293 477.3,292.7 478.1,292.5 478.9,292 479.7,291.6 480.5,291.4 481.3,290.6 482.1,291 482.9,290.9 483.7,291.2 484.5,291.5 485.3,291.4 486.1,291.5 486.9,291.5 487.7,291.7 488.5,291.2 489.3,291.5 490.1,291.3 490.9,291.4 491.7,291.7 492.5,291.8 493.3,291.6 494.1,291.9 494.9,291.7 495.7,291.7 496.5,291.7 497.3,291.7 498.1,291.9 498.9,291.9 499.7,291.6 500.5,291.7 501.3,291.6 502.1,291.8 502.9,291.8 503.7,291.8 504.5,291.5 505.3,291.6 506.1,291.1 506.9,290.7 507.7,290.7 508.5,290.3 509.3,290.2 510.1,290 510.9,289.6 511.7,289.4 512.5,289.1 513.3,288.8 514.1,288.3 514.9,288.4 515.7,288.1 516.5,287.9 517.3,287.2 518.1,287.1 518.9,287.2 519.7,287.3 520.5,287 521.3,287.2 522.1,286.7 522.9,286.9 523.7,286.4 524.5,286.5 525.3,286.4 526.1,286.6 526.9,286.3 527.7,286.4 528.5,286.5 529.3,286 530.1,286.1 530.9,285.6 531.7,285.9 532.5,285.3 533.3,285.1 534.1,285.2 534.9,285.3 535.7,284.5 536.5,284.8 537.3,284.7 538.1,284.4 538.9,283.9 539.7,283.9 540.5,284.2 541.3,283.7 542.1,284.3 542.9,284.5 543.7,283.8 544.5,283.9 545.3,284.2 546.1,284 546.9,284.2 547.7,284 548.5,284 549.3,284.1 550.1,284.2 550.9,284.2 551.7,284.1 552.5,284.4 553.3,284.4 554.1,284.3 554.9,284 555.7,284.4 556.5,284.7 557.3,285.1 558.1,285.5 558.9,285.3 559.7,286 560.5,285.7 561.3,286.2 562.1,286.3 562.9,286.6 563.7,287.1 564.5,287 565.3,287.3 566.1,287.3 566.9,286.8 567.7,286.2 568.5,286 569.3,285.9 570.1,285.8 570.9,285.6 571.7,284.9 572.5,284.8 573.3,284.5 574.1,284.5 574.9,284.4 575.7,284 576.5,283.9 577.3,283.5 578.1,283.3 578.9,283.3 579.7,283 580.5,282.4 581.3,282.2 582.1,282.3 582.9,282 583.7,281.8 584.5,282 585.3,281.6 586.1,281.9 586.9,281.7 587.7,281.9 588.5,282.2 589.3,281.8 590.1,281.5 590.9,281.3 591.7,281.7 592.5,281.6 593.3,281.3 594.1,281.5 594.9,281.5 595.7,281.3 596.5,281.5 597.3,281.6 598.1,281.3 598.9,281.7 599.7,281.2 600.5,281.1 601.3,281.5 602.1,281.1 602.9,280.8 603.7,280.6 604.5,280.6 605.3,280.2 606.1,280 606.9,279.5 607.7,279.4 608.5,279.4 609.3,278.9 610.1,278.9 610.9,279 611.7,278.6 612.5,278.6 613.3,277.9 614.1,278 614.9,277.6 615.7,277.6 616.5,277 617.3,277.1 618.1,277 618.9,276.7 619.7,276.6 620.5,276.4 621.3,275.8 622.1,276.1 622.9,276 623.7,276.2 624.5,276 625.3,275.6 626.1,275.9 626.9,275.7 627.7,275.2 628.5,275.7 629.3,275.4 630.1,275.8 630.9,275.4 631.7,274.8 632.5,275.2 633.3,274.9 634.1,274.7 634.9,274.8 635.7,274.7 636.5,274.4 637.3,274.2 638.1,274.6 638.9,274.6 639.7,274.3 640.5,274.8 641.3,274.6 642.1,275 642.9,275 643.7,274.7 644.5,274.9 645.3,274.6 646.1,274.9 646.9,274.5 647.7,274.7 648.5,275 649.3,275.2 650.1,275.3 650.9,275.4 651.7,275.4 652.5,275.1 653.3,275.2 654.1,275.2 654.9,275.3 655.7,275 656.5,275.3 657.3,275.8 658.1,275.5 658.9,275.4 659.7,275.7 660.5,275.7 661.3,275.7 662.1,275.6 662.9,275.6 663.7,275.8 664.5,275.9 665.3,275.9 666.1,275.7 666.9,274.9 667.7,274.5 668.5,274.3 669.3,274.2 670.1,273.6 670.9,274 671.7,273.8 672.5,273.8 673.3,274.2 674.1,274.3 674.9,274.1 675.7,273.5 676.5,273.9 677.3,273.9 678.1,273.9 678.9,274.3 679.7,274.1 680.5,274.1 681.3,274 682.1,274.2 682.9,274 683.7,273.7 684.5,274 685.3,273.9 686.1,273.7 686.9,273.6 687.7,273.9 688.5,273.9 689.3,274.6 690.1,274.8 690.9,275.5 691.7,275.9 692.5,276.1 693.3,275.6 694.1,275.8 694.9,276.2 695.7,276.2 696.5,275.7 697.3,275.5 698.1,275.9 698.9,275.8 699.7,276.1 700.5,276.1 701.3,275.9 702.1,275.7 702.9,276 703.7,275.7 704.5,275.7 705.3,275.9 706.1,276.3 706.9,276.3 707.7,276.2 708.5,275.6 709.3,276 710.1,275.7 710.9,276 711.7,276.1 712.5,276 713.3,275.8 714.1,275.7 714.9,276 715.7,276.2 716.5,275.7 717.3,275.7 718.1,275.9 718.9,275.8 719.7,276.1 720.5,276.1 721.3,276.1 722.1,275.8 722.9,275.7 723.7,275.8 724.5,275.9 725.3,276.1 726.1,276 726.9,275.9 727.7,276.3 728.5,276.5 729.3,276.5 730.1,276.5 730.9,277 731.7,277.3 732.5,277.4 733.3,277.2 734.1,277.7 734.9,277.9 735.7,278 736.5,278.2 737.3,278.3 738.1,278.5 738.9,278.8 739.7,278.7 740.5,278.7 741.3,278.5 742.1,278.7 742.9,279 743.7,278.5 744.5,278.7 745.3,278.7 746.1,278.8 746.9,278.9 747.7,278.6 748.5,278.9 749.3,278.8 750.1,278.6 750.9,278.8 751.7,279 752.5,279 753.3,278.7 754.1,278.5 754.9,277.6 755.7,276.6 756.5,277.1 757.3,276.8 758.1,276.8 758.9,276.6 759.7,276.7 760.5,276.5 761.3,277 762.1,276.5 762.9,276.6 763.7,276.8 764.5,276.6 765.3,276.8 766.1,276.7 766.9,276.6 767.7,276.6 768.5,276.2 769.3,276.8 770.1,276.7 770.9,276.7 771.7,277.1 772.5,277.4 773.3,278.2 774.1,278.5 774.9,279.1 775.7,279.5 776.5,280.2 777.3,281 778.1,281 778.9,280.7 779.7,280.7 780.5,281.1 781.3,280.9 782.1,281.1 782.9,281.2 783.7,281.1 784.5,280.7 785.3,280.5 786.1,281.2 786.9,280.6 787.7,280.6 788.5,280.8 789.3,280.8 790.1,281 790.9,280.5 791.7,279.9 792.5,279.8 793.3,278.9 794.1,279.2 794.9,277.9 795.7,277.7 796.5,277.4 797.3,277 798.1,276.7 798.9,277 799.7,277.2 800.5,276.9 801.3,276.7 802.1,277 802.9,276.6 803.7,277.1 804.5,277.2 805.3,277 806.1,276.8 806.9,277.2 807.7,277.3 808.5,277.2 809.3,276.9 810.1,277.1 810.9,276.9 811.7,277.3 812.5,276.9 813.3,276.8 814.1,277 814.9,277.1 815.7,277 816.5,277 817.3,276.8 818.1,277 818.9,277 819.7,277 820.5,277 821.3,277 822.1,276.8 822.9,277.3 823.7,276.2 824.5,276.3 825.3,276.1 826.1,275.2 826.9,274.9 827.7,275 828.5,275 829.3,274.4 830.1,273.7 830.9,273.4 831.7,273.2 832.5,273 833.3,273.1 834.1,273.3 834.9,273.1 835.7,273.2 836.5,273.2 837.3,272.9 838.1,272.9 838.9,273 839.7,272.7 840.5,272.9 841.3,272.9 842.1,272.8 842.9,272.4 843.7,272.8 844.5,272.6 845.3,272.6 846.1,272.3 846.9,272.6 847.7,272.5 848.5,272.4 849.3,272.3 850.1,272.4 850.9,272 851.7,272.4 852.5,272.2 853.3,272.4 854.1,271.8 854.9,271.7 855.7,271.5 856.5,271.2 857.3,270.7 858.1,270.6 858.9,270 859.7,269.9 860.5,269.4 861.3,269 862.1,268.8 862.9,268.9 863.7,268.9 864.5,269.1 865.3,268.9 866.1,268.8 866.9,269.1 867.7,269 868.5,269.1 869.3,269 870.1,269.3 870.9,269.1 871.7,269.1 872.5,269.1 873.3,269.2 874.1,269 874.9,269.1 875.7,269 876.5,269.3 877.3,269 878.1,268.4 878.9,269.1 879.7,268.9 880.5,269 881.3,269.1 882.1,268.4 882.9,268.6 883.7,269 884.5,268.7 885.3,269.1 886.1,269.1 886.9,268.9 887.7,269 888.5,268.1 889.3,268 890.1,267.8 890.9,267.5 891.7,267 892.5,266.7 893.3,266.1 894.1,265.6 894.9,265.3 895.7,265.3 896.5,264.9 897.3,264.1 898.1,263.8 898.9,263.4 899.7,262.6 900.5,262.4 901.3,262.5 902.1,262.3 902.9,262.5 903.7,262.3 904.5,262.5 905.3,262.7 906.1,262.5 906.9,262.7 907.7,262.5 908.5,262.3 909.3,262.5 910.1,262.1 910.9,262.3 911.7,262.4 912.5,262.4 913.3,262.6 914.1,262.4 914.9,262.9 915.7,262.9 916.5,262.9 917.3,262.8 918.1,262.8 918.9,263.3 919.7,263.2 920.5,263.9 921.3,263.6 922.1,263.8 922.9,263.4 923.7,263.4 924.5,263.1 925.3,262.5 926.1,262.8 926.9,262.4 927.7,262.2 928.5,262.1 929.3,262 930.1,261.7 930.9,261.7 931.7,261 932.5,261.1 933.3,260.6 934.1,260.4 934.9,260.5 935.7,260.2 936.5,260.1 937.3,260.1 938.1,260.2 938.9,260.3 939.7,260.2 940.5,260 941.3,260.2 942.1,260.1 942.9,260.1 943.7,260.1 944.5,260.3 945.3,260.2 946.1,260.1 946.9,259.9 947.7,259.9 948.5,260.2 949.3,260 950.1,260.4 950.9,260.2 951.7,260.3 952.5,260.2 953.3,260.7 954.1,260.4 954.9,260.4 955.7,260.4 956.5,259.8 957.3,260.1 958.1,260.5 958.9,260.6 959.7,260.2 960.5,259.9 961.3,260.1 962.1,260.4 962.9,260.3 963.7,260.6 964.5,260.3 965.3,260.4 966.1,260.5 966.9,260.2 967.7,259.9 968.5,259.7 969.3,259.5 970.1,259.4 970.9,259.3 971.7,259 972.5,258.6 973.3,258.3 974.1,258.2 974.9,258.2 975.7,257.9 976.5,258 977.3,257.5 978.1,257.2 978.9,257.4 979.7,257.1 980.5,256.9 981.3,256.2 982.1,256.1 982.9,255.9 983.7,255.5 984.5,254.7 985.3,254.8 986.1,254.5 986.9,254.4 987.7,253.9 988.5,253.9 989.3,253.9 990.1,253.8 990.9,254.1 991.7,254.4 992.5,253.9 993.3,254.4 994.1,254.5 994.9,253.9 995.7,253.9 996.5,254.1 997.3,254.1 998.1,254.1 998.9,254.3 999.7,254.7 1000.5,255.1 1001.3,255.5 1002.1,255.6 1002.9,255.7 1003.7,256.3 1004.5,256.6 1005.3,256.6 1006.1,257.2 1006.9,257.1 1007.7,257.5 1008.5,258 1009.3,258.1 1010.1,258.2 1010.9,257.7 1011.7,257.6 1012.5,257.6 1013.3,256.9 1014.1,257.1 1014.9,257 1015.7,256.6 1016.5,256.6 1017.3,256 1018.1,255.8 1018.9,255.4 1019.7,255.6 1020.5,254.8 1021.3,254.8 1022.1,254 1022.9,254.2 1023.7,253.4 1024.5,253.2 1025.3,252.6 1026.1,252.5 1026.9,252.6 1027.7,251.9 1028.5,252.5 1029.3,252.6 1030.1,252.2 1030.9,251.9 1031.7,252.1 1032.5,252.2 1033.3,251.8 1034.1,252.1 1034.9,252.2 1035.7,252.3 1036.5,251.8 1037.3,252.2 1038.1,252.2 1038.9,252.4 1039.7,252.4 1040.5,252.8 1041.3,253.1 1042.1,253.1 1042.9,254.1 1043.7,254 1044.5,253.9 1045.3,253.7 1046.1,254 1046.9,253.7 1047.7,253.7 1048.5,253.6 1049.3,253.5 1050.1,253.1 1050.9,253.3 1051.7,253.7 1052.5,253.3 1053.3,253.1 1054.1,253 1054.9,252.9 1055.7,252.9 1056.5,252.9 1057.3,253.2 1058.1,252.9 1058.9,253.1 1059.7,252.5 1060.5,252.8 1061.3,252.5 1062.1,252.4 1062.9,253 1063.7,252.6 1064.5,253 1065.3,252.8 1066.1,253.2 1066.9,253.3 1067.7,252.7 1068.5,253.2 1069.3,253.1 1070.1,253.2 1070.9,253 1071.7,253.4 1072.5,253.4 1073.3,253.2 1074.1,252.9 1074.9,252.8 1075.7,253.5 1076.5,253.3 1077.3,253 1078.1,253.2 1078.9,253.9 1079.7,253.2 1080.5,253.5 1081.3,253.7 1082.1,254 1082.9,253.4 1083.7,253.1 1084.5,252.5 1085.3,252.6 1086.1,252.2 1086.9,251.6 1087.7,251.3 1088.5,251.5 1089.3,251.3 1090.1,251.6 1090.9,251 1091.7,250.7 1092.5,251.5 1093.3,251.2 1094.1,251.4 1094.9,250.9 1095.7,251 1096.5,251.4 1097.3,250.9 1098.1,251.1 1098.9,251.1 1099.7,251.3 1100.5,251.5 1101.3,251.4 1102.1,252 1102.9,252.1 1103.7,252.3 1104.5,252.7 1105.3,253.1 1106.1,253.1 1106.9,253.5 1107.7,253.5 1108.5,253.6 1109.3,253.5 1110.1,253.5 1110.9,253.3 1111.7,253.1 1112.5,252.6 1113.3,252.5 1114.1,252.5 1114.9,252.5 1115.7,252.2 1116.5,251.9 1117.3,251.6 1118.1,251.2 1118.9,251.2 1119.7,251.4 1120.5,250.9 1121.3,250.7 1122.1,250.6 1122.9,250.9 1123.7,250.1 1124.5,249.8 1125.3,249.5 1126.1,249.2 1126.9,249.5 1127.7,249.3 1128.5,249.3 1129.3,249.7 1130.1,250 1130.9,250 1131.7,250.4 1132.5,250.8 1133.3,250.6 1134.1,251.1 1134.9,251.4 1135.7,251.2 1136.5,252.3 1137.3,252 1138.1,252.2 1138.9,251.5 1139.7,251.8 1140.5,252 1141.3,251.7 1142.1,252.2 1142.9,251.6 1143.7,251.8 1144.5,251.7 1145.3,251.5 1146.1,251.8 1146.9,251.8 1147.7,251.6 1148.5,251.7 1149.3,252 1150.1,252 1150.9,251.9 1151.7,251.9 1152.5,251.8 1153.3,251.2 1154.1,250.8 1154.9,250.6 1155.7,250.3 1156.5,249.9 1157.3,249.7 1158.1,249.4 1158.9,249.3 1159.7,248.6 1160.5,248.8 1161.3,248.5 1162.1,248.3 1162.9,248.9 1163.7,248.8 1164.5,248.8 1165.3,248.5 1166.1,249 1166.9,248.6 1167.7,248.7 1168.5,248.9 1169.3,249.2 1170.1,249 1170.9,249.1 1171.7,248.9 1172.5,249.3 1173.3,249.1 1174.1,249.7 1174.9,250.6 1175.7,250.4 1176.5,250.6 1177.3,250.9 1178.1,251.1 1178.9,251.1 1179.7,251.4 1180.5,251.6 1181.3,251.3 1182.1,251.2 1182.9,251.4 1183.7,251.1 1184.5,251.3 1185.3,251.5 1186.1,251.6 1186.9,250.8 1187.7,250.3 1188.5,249.8 1189.3,249.4 1190.1,249.1 1190.9,248.5 1191.7,248.3 1192.5,248.7 1193.3,248.7 1194.1,248.7 1194.9,248.7 1195.7,248.4 1196.5,248.3 1197.3,248.6 1198.1,248.4 1198.9,248.5 1199.7,248.8 1200.5,248.1 1201.3,248.1 1202.1,248.2 1202.9,248.4 1203.7,248.5 1204.5,248.6 1205.3,248.3 1206.1,248.6 1206.9,248 1207.7,248 1208.5,247.9 1209.3,247.5 1210.1,247 1210.9,246.8 1211.7,246.6 1212.5,246.4 1213.3,245.7 1214.1,245.5 1214.9,245.3 1215.7,245.4 1216.5,244.9 1217.3,244.6 1218.1,244.1 1218.9,243.9 1219.7,244.3 1220.5,244 1221.3,244.4 1222.1,244 1222.9,244.2 1223.7,244.4 1224.5,244.3 1225.3,244.2 1226.1,244.6 1226.9,244.2 1227.7,244.3 1228.5,244.1 1229.3,244.4 1230.1,244.5 1230.9,244.4 1231.7,244.3 1232.5,244.4 1233.3,244 1234.1,244.1 1234.9,244.3 1235.7,243.7 1236.5,243.9 1237.3,244.3 1238.1,244.2 1238.9,244.1 1239.7,244.2 1240.5,244.5 1241.3,244.3 1242.1,244.1 1242.9,243.6 1243.7,243.6 1244.5,243 1245.3,242.9 1246.1,242.4 1246.9,242.5 1247.7,241.8 1248.5,241.6 1249.3,241.5 1250.1,240.4 1250.9,240.4 1251.7,240.2 1252.5,240.8 1253.3,240.6 1254.1,240.5 1254.9,240.5 1255.7,240.7 1256.5,240.6 1257.3,240.5 1258.1,240.7 1258.9,240.6 1259.7,240.9 1260.5,240.3 1261.3,240.4 1262.1,240.7 1262.9,240.7 1263.7,240.4 1264.5,240.8 1265.3,240.7 1266.1,240.9 1266.9,240.5 1267.7,240.8 1268.5,240.6 1269.3,241.1 1270.1,241.6 1270.9,241.8 1271.7,242.2 1272.5,243.1 1273.3,242.2 1274.1,242.3 1274.9,242.2 1275.7,241.9 1276.5,241.3 1277.3,240.9 1278.1,241 1278.9,240.4 1279.7,240.2 1280.5,239.8 1281.3,239.3 1282.1,239.2 1282.9,238.9 1283.7,238.3 1284.5,238.6 1285.3,238 1286.1,238 1286.9,237.6 1287.7,237 1288.5,237.1 1289.3,237 1290.1,237.1 1290.9,237.1 1291.7,237.2 1292.5,237.2 1293.3,237.2 1294.1,237 1294.9,236.8 1295.7,237.2 1296.5,237.1 1297.3,237.3 1298.1,237.1 1298.9,237.2 1299.7,237 1300.5,237.3 1301.3,237.2 1302.1,237.3 1302.9,237.8 1303.7,237.4 1304.5,237.2 1305.3,237.3 1306.1,237.3 1306.9,237.2 1307.7,237.3 1308.5,237.3 1309.3,237.3 1310.1,237.5 1310.9,237.5 1311.7,237.6 1312.5,237.4 1313.3,237.4" stroke="#0000ff" stroke-width="4.3" stroke-linejoin="round" stroke-linecap="butt"/>
<polyline points="341.3,504.7 341.7,499.8 342,500 342.4,505.8 342.7,512 343.1,512.8 343.4,507.8 343.8,502.5 344.1,502.1 344.5,506.2 344.8,510 345.2,510.2 345.5,507.5 345.9,504.7 346.2,503.7 346.6,504.1 346.9,505.5 347.3,507.4 347.6,509.1 348,509.7 348.3,508.9 348.7,508.2 349,508.8 349.4,509.9 349.7,509.5 350.1,506.9 350.4,504.3 350.8,504.3 351.1,507.1 351.5,510.3 351.8,510.8 352.2,507.9 352.5,503.4 352.9,500.6 353.2,501.3 353.6,505.1 353.9,509.5 354.3,511.7 354.6,510.5 355,506.6 355.3,502.3 355.7,500.5 356,502.6 356.4,507.3 356.7,511.3 357.1,512 357.4,509.9 357.8,507.7 358.1,507 358.5,507.3 358.8,507.5 359.2,507.8 359.5,508.9 359.9,510.2 360.2,509.5 360.6,506.2 360.9,502.3 361.3,501.8 361.6,506 362,511.5 362.3,513.1 362.7,508.9 363,502.3 363.4,499 363.7,501.1 364.1,506.1 364.4,509.4 364.8,509.2 365.1,507.5 365.5,506.6 365.8,507.2 366.2,508.1 366.5,508.6 366.9,508.6 367.2,507.9 367.6,506.3 367.9,504.5 368.3,504.4 368.6,507.5 369,512.1 369.3,514.6 369.7,512.1 370,506 370.4,500.7 370.7,499.9 371.1,503.7 371.4,508.7 371.8,511.1 372.1,509.9 372.5,506.9 372.8,504.6 373.2,504.1 373.5,504.8 373.9,505.9 374.2,506.7 374.6,507.2 374.9,507.5 375.3,507.6 375.6,507.7 376,507.9 376.3,508 376.7,507.3 377,506.1 377.4,505.9 377.7,507.8 378.1,510.6 378.4,511.4 378.8,508.4 379.1,503.6 379.5,501.2 379.8,503.8 380.2,509.4 380.5,513.4 380.9,512.2 381.2,506.6 381.6,500.8 381.9,499.3 382.3,503.2 382.6,509.3 383,512.9 383.3,512 383.7,508.6 384,506 384.4,505.6 384.7,505.5 385.1,504.3 385.4,502.8 385.8,503.5 386.1,506.4 386.5,509.4 386.8,510.5 387.2,510 387.5,509.2 387.9,508.6 388.2,507.6 388.6,506.1 388.9,505.2 389.3,505.9 389.6,507.6 390,508.7 390.3,507.8 390.7,505.3 391,503.5 391.4,504.4 391.7,507.9 392.1,511.6 392.4,512.2 392.8,508.9 393.1,503.7 393.5,500.4 393.8,500.9 394.2,504.9 394.5,509.8 394.9,513 395.2,512.7 395.6,508.9 395.9,503.9 396.3,501.6 396.6,503.9 397,508.8 397.3,511.8 397.7,510.4 398,506.6 398.4,504 398.7,504.2 399.1,505.9 399.4,506.9 399.8,506.8 400.1,506.8 400.5,507.8 400.8,509.4 401.2,510 401.5,508.8 401.9,506.1 402.2,503.8 402.6,503.5 402.9,505.6 403.3,508.4 403.6,509.7 404,508.5 404.3,506.1 404.7,504.9 405,506.1 405.4,508 405.7,508.3 406.1,506.4 406.4,504.6 406.8,505.5 407.1,508.9 407.5,511.5 407.8,510.3 408.2,505.5 408.5,501.3 408.9,501.2 409.2,504.4 409.6,507.9 409.9,510 410.3,511.9 410.6,513.8 411,513.3 411.3,508.5 411.7,502 412,499 412.4,501.9 412.7,507.7 413.1,511.5 413.4,510.9 413.8,507.5 414.1,504.4 414.5,503.6 414.8,504.9 415.2,506.6 415.5,507 415.9,506.3 416.2,505.8 416.6,506.3 416.9,507.6 417.3,508.7 417.6,509.1 418,509.2 418.3,509.1 418.7,508.6 419,507 419.4,504.7 419.7,503.4 420.1,504.8 420.4,508.4 420.8,511.6 421.1,511.8 421.5,508.9 421.8,504.9 422.2,502.9 422.5,504.2 422.9,507.6 423.2,510.2 423.6,509.6 423.9,506.1 424.3,502.4 424.6,501.6 425,504.3 425.3,508.1 425.7,509.5 426,507.9 426.4,505.5 426.7,505.1 427.1,506.9 427.4,508.6 427.8,508.7 428.1,507.6 428.5,507.4 428.8,509 429.2,511 429.5,511.3 429.9,509.1 430.2,505.7 430.6,503.1 430.9,502.2 431.3,503.1 431.6,505.7 432,509 432.3,511.6 432.7,511.6 433,508.7 433.4,504.5 433.7,501.5 434.1,501.6 434.4,504.1 434.8,507.1 435.1,509.3 435.5,510.6 435.8,511.8 436.2,512.1 436.5,510.1 436.9,505.5 437.2,500.8 437.6,500 437.9,504 438.3,509.2 438.6,511.5 439,509.7 439.3,506.6 439.7,505.1 440,505.6 440.4,506.5 440.7,507.1 441.1,507.4 441.4,508.1 441.8,508.5 442.1,507.9 442.5,506.7 442.8,506 443.2,506.3 443.5,506.7 443.9,506.9 444.2,506.9 444.6,507.2 444.9,507.7 445.3,508 445.6,507.9 446,507.6 446.3,506.6 446.7,504.9 447,503.7 447.4,504.5 447.7,507 448.1,509.2 448.4,509 448.8,507 449.1,505.7 449.5,507.2 449.8,510.6 450.2,512.9 450.5,511.3 450.9,506.1 451.2,500.7 451.6,499.4 451.9,503.6 452.3,510.2 452.6,514.5 453,513.5 453.3,508.7 453.7,503.6 454,500.5 454.4,499.6 454.7,500.8 455.1,504 455.4,508.5 455.8,512 456.1,512.4 456.5,510 456.8,507.3 457.2,506.1 457.5,505.8 457.9,505.7 458.2,506.2 458.6,508.8 458.9,512.6 459.3,514 459.6,510.4 460,503.6 460.3,498.6 460.7,499.6 461,505.5 461.4,511.6 461.7,513.5 462.1,510.4 462.4,505 462.8,501.4 463.1,502.3 463.5,506.8 463.8,510.5 464.2,509.7 464.5,504.9 464.9,500.6 465.2,501.2 465.6,506.7 465.9,512.6 466.3,513.8 466.6,509.7 467,505 467.3,505.2 467.7,510.8 468,515.6 468.4,513.2 468.7,504.3 469.1,496.4 469.4,496.8 469.8,505.1 470.1,513.4 470.5,514.5 470.8,508.7 471.2,502.5 471.5,501.9 471.9,506.6 472.2,511.1 472.6,510.9 472.9,506.9 473.3,503.5 473.6,503.9 474,507.1 474.3,509.6 474.7,509.2 475,506.5 475.4,504.3 475.7,504.6 476.1,507.3 476.4,510.1 476.8,510.8 477.1,508.6 477.5,504.4 477.8,500.9 478.2,500.8 478.5,505.3 478.9,512 479.2,516.7 479.6,515.5 479.9,508.5 480.3,500.3 480.6,496.7 481,500.2 481.3,507.2 481.7,511.4 482,510.1 482.4,506.4 482.7,505.5 483.1,508.4 483.4,511.4 483.8,511.1 484.1,508.5 484.5,506.2 484.8,505.7 485.2,505.9 485.5,505.6 485.9,504.7 486.2,504.2 486.6,504.9 486.9,506.7 487.3,509.3 487.6,511.4 488,511.6 488.3,509.3 488.7,505.3 489,501.9 489.4,501 489.7,503.1 490.1,506.5 490.4,509.4 490.8,510.7 491.1,510.3 491.5,508.5 491.8,506.4 492.2,504.9 492.5,505.3 492.9,507.5 493.2,510 493.6,510.7 493.9,509 494.3,505.7 494.6,503.2 495,502.8 495.3,504.8 495.7,508 496,510.5 496.4,510.5 496.7,507.7 497.1,503.8 497.4,501.9 497.8,503.2 498.1,506.5 498.5,509.2 498.8,510.3 499.2,510.6 499.5,510.6 499.9,509.4 500.2,506.4 500.6,503 500.9,502.1 501.3,505 501.6,509.5 502,511.7 502.3,509.7 502.7,505.6 503,503 503.4,503.9 503.7,507.1 504.1,509.7 504.4,509.9 504.8,507.7 505.1,504.6 505.5,502.3 505.8,502.3 506.2,504.9 506.5,508.7 506.9,511.4 507.2,511.3 507.6,509.3 507.9,507.5 508.3,506.8 508.6,506 509,503.8 509.3,501.4 509.7,502.4 510,509 510.4,517.9 510.7,521.5 511.1,514.9 511.4,502.1 511.8,493.1 512.1,495.2 512.5,505.2 512.8,513.8 513.2,514.5 513.5,509 513.9,503.5 514.2,502.1 514.6,503.9 514.9,506 515.3,506.8 515.6,506.1 516,505.1 516.3,505.5 516.7,508.2 517,511.9 517.4,513.9 517.7,512 518.1,507.4 518.4,502.8 518.8,500.6 519.1,501.5 519.5,505 519.8,509.6 520.2,513.1 520.5,513.6 520.9,510.6 521.2,505.8 521.6,502 521.9,501.1 522.3,503.4 522.6,507.5 523,511.2 523.3,512.6 523.7,511 524,506.8 524.4,502.3 524.7,500.6 525.1,503.4 525.4,509 525.8,512.9 526.1,511.4 526.5,505.1 526.8,499.5 527.2,499.8 527.5,506.2 527.9,513.7 528.2,516.4 528.6,512.1 528.9,504 529.3,498.1 529.6,499 530,506.1 530.3,514.2 530.7,517.2 531,512.8 531.4,504.5 531.7,498.7 532.1,499.2 532.4,504.9 532.8,511.1 533.1,513.4 533.5,511 533.8,506.3 534.2,503 534.5,502.9 534.9,505.2 535.2,507.7 535.6,508.9 535.9,508.7 536.3,507.8 536.6,507.1 537,506.8 537.3,507 537.7,507.1 538,506.7 538.4,506.1 538.7,505.9 539.1,506.7 539.4,508.2 539.8,509.1 540.1,508.7 540.5,507.3 540.8,506 541.2,505.8 541.5,506.6 541.9,507.5 542.2,507.7 542.6,507.1 542.9,506.5 543.3,506.1 543.6,505.8 544,505 544.3,504.4 544.7,505.5 545,511.5 545.4,516.6 545.7,517.7 546.1,511.9 546.4,501.4 546.8,492.3 547.1,491.1 547.5,499.8 547.8,514 548.2,525.2 548.5,526.7 548.9,518.3 549.2,506 549.6,497.6 549.9,496.3 550.3,499.2 550.6,502 551,503.5 551.3,504.7 551.7,505.5 552,503.1 552.4,496.3 552.7,489.9 553.1,479 553.4,499.1 553.8,527.4 554.1,545 554.5,528 554.8,506.3 555.2,506.6 555.5,511.9 555.9,516.5 556.2,515.9 556.6,511.2 556.9,507.1 557.3,506.8 557.6,510.1 558,514.1 558.3,515.9 558.7,514 559,508.8 559.4,502.4 559.7,497.4 560.1,495.5 560.4,496.7 560.8,500.6 561.1,506.7 561.5,513.5 561.8,518 562.2,516.7 562.5,510.2 562.9,502.4 563.2,498.6 563.6,500.6 563.9,505.4 564.3,509 564.6,509.4 565,507.9 565.3,506.3 565.7,505.9 566,507.2 566.4,510.2 566.7,513.3 567.1,514.2 567.4,511.2 567.8,506.3 568.1,502.9 568.5,502.8 568.8,504.5 569.2,505.9 569.5,506.5 569.9,507.7 570.2,509.1 570.6,509 570.9,506.5 571.3,504.3 571.6,505.5 572,509 572.3,510.1 572.7,506.3 573,501.1 573.4,500.1 573.7,504.6 574.1,510.7 574.4,513.2 574.8,510.7 575.1,505.6 575.5,501.3 575.8,500.3 576.2,503.7 576.5,510.3 576.9,516.4 577.2,517.6 577.6,512.3 577.9,503.6 578.3,497.5 578.6,497.8 579,503.2 579.3,509.1 579.7,511.7 580,511 580.4,510.3 580.7,512.4 581.1,516 581.4,516.5 581.8,509.8 582.1,498.3 582.5,489.8 582.8,490.9 583.2,500.2 583.5,509.5 583.9,512.5 584.2,509.7 584.6,506.8 584.9,508.1 585.3,512.2 585.6,514.1 586,510.9 586.3,504.5 586.7,499.6 587,499.5 587.4,503.6 587.7,508.9 588.1,513 588.4,515.1 588.8,515 589.1,512 589.5,506.4 589.8,500.1 590.2,496.7 590.5,499.2 590.9,506.5 591.2,514.1 591.6,516.6 591.9,512.2 592.3,504.6 592.6,499.7 593,500.5 593.3,504.5 593.7,506.8 594,505.9 594.4,504.8 594.7,506.7 595.1,510.6 595.4,512.7 595.8,511.3 596.1,508.5 596.5,506.9 596.8,506.3 597.2,505.4 597.5,504.3 597.9,504.8 598.2,507.6 598.6,510.5 598.9,510.6 599.3,507.3 599.6,503.4 600,502.2 600.3,504.5 600.7,508 601,509.9 601.4,509.8 601.7,508.9 602.1,507.9 602.4,506.1 602.8,503.1 603.1,501.2 603.5,503.1 603.8,508.6 604.2,513.7 604.5,514.2 604.9,509.6 605.2,503.7 605.6,501.3 605.9,503.6 606.3,508.3 606.6,511.3 607,510.8 607.3,507.2 607.7,502.9 608,500.5 608.4,502 608.7,507.5 609.1,514.3 609.4,517 609.8,512.5 610.1,503.6 610.5,497.9 610.8,500.6 611.2,508.8 611.5,514.3 611.9,511.9 612.2,504.5 612.6,499.5 612.9,500.9 613.3,506.6 613.6,511.4 614,511.5 614.3,507.7 614.7,503.6 615,502.8 615.4,505.5 615.7,508.7 616.1,509.7 616.4,508.3 616.8,507.3 617.1,508.9 617.5,512.2 617.8,512.9 618.2,508.2 618.5,500.2 618.9,495.2 619.2,498.7 619.6,509.3 619.9,519.2 620.3,520.4 620.6,511.6 621,500.2 621.3,496.4 621.7,504 622,516.1 622.4,520.6 622.7,511.6 623.1,495.8 623.4,486.3 623.8,490.2 624.1,503.3 624.5,514.9 624.8,517.6 625.2,512.9 625.5,507 625.9,505 626.2,507.4 626.6,510.9 626.9,511.9 627.3,509.2 627.6,504.1 628,500.2 628.3,500.5 628.7,506.2 629,514.5 629.4,519.1 629.7,514.9 630.1,503.2 630.4,493.1 630.8,494 631.1,506 631.5,519 631.8,522.5 632.2,514.5 632.5,502.6 632.9,495.6 633.2,497.3 633.6,504.9 633.9,512.7 634.3,515.2 634.6,511 635,503.9 635.3,500.1 635.7,502.9 636,509.3 636.4,513.2 636.7,511 637.1,504.2 637.4,497.8 637.8,496.1 638.1,500.4 638.5,508.6 638.8,515.8 639.2,517.6 639.5,513.2 639.9,506.8 640.2,503.8 640.6,505.9 640.9,509.8 641.3,510.9 641.6,507.9 642,504 642.3,502.5 642.7,504.1 643,506.9 643.4,508.3 643.7,507.6 644.1,505.6 644.4,504.2 644.8,504.4 645.1,506 645.5,507.4 645.8,508.1 646.2,508.3 646.5,508.5 646.9,508.4 647.2,507.4 647.6,506.4 647.9,507.3 648.3,510.5 648.6,513.5 649,512.8 649.3,507.3 649.7,500.4 650,497.4 650.4,501.3 650.7,509.7 651.1,516.1 651.4,515.6 651.8,508.4 652.1,499.8 652.5,495.2 652.8,496.8 653.2,502.6 653.5,509.2 653.9,513.6 654.2,514.1 654.6,510.8 654.9,506.7 655.3,505.4 655.6,507.6 656,510.5 656.3,510.1 656.7,506.2 657,502.4 657.4,502.3 657.7,506.3 658.1,511.6 658.4,514.2 658.8,511.8 659.1,505.4 659.5,498.9 659.8,496.9 660.2,501.4 660.5,509.6 660.9,515.3 661.2,514.2 661.6,507.8 661.9,502 662.3,501.6 662.6,506 663,510.5 663.3,511.4 663.7,509.3 664,507 664.4,506.2 664.7,506.2 665.1,506.1 665.4,505.9 665.8,506.3 666.1,507.2 666.5,507.9 666.8,507.6 667.2,506.6 667.5,505.6 667.9,505 668.2,505.6 668.6,507.9 668.9,511.3 669.3,513.1 669.6,510.1 670,502.7 670.3,496.6 670.7,497.3 671,504.1 671.4,510.2 671.7,510.6 672.1,507.7 672.4,507.8 672.8,513 673.1,518.3 673.5,516.6 673.8,507.2 674.2,496.2 674.5,491.8 674.9,497.3 675.2,509.4 675.6,520.4 675.9,523.2 676.3,516.1 676.6,504.5 677,496.9 677.3,497.4 677.7,502.5 678,505.3 678.4,503.3 678.7,500.9 679.1,503.8 679.4,511.2 679.8,516.9 680.1,515.4 680.5,508.2 680.8,502.2 681.2,501.6 681.5,504.6 681.9,506.9 682.2,506.6 682.6,506.5 682.9,509.3 683.3,513.9 683.6,516.6 684,514.4 684.3,508 684.7,501.4 685,498.7 685.4,501.2 685.7,505.8 686.1,508 686.4,506.7 686.8,504.2 687.1,503.5 687.5,504.5 687.8,505.1 688.2,505.1 688.5,506.1 688.9,508.9 689.2,511.8 689.6,512.2 689.9,509.5 690.3,505.9 690.6,504.4 691,506.4 691.3,510.6 691.7,513.8 692,513.7 692.4,510.1 692.7,505.5 693.1,503 693.4,503.9 693.8,506.8 694.1,509.1 694.5,509.1 694.8,506.5 695.2,502.9 695.5,500 695.9,499.2 696.2,500.8 696.6,504.2 696.9,507.6 697.3,509.5 697.6,509.8 698,509.1 698.3,508.3 698.7,508.4 699,507.7 699.4,506.2 699.7,505.6 700.1,507.8 700.4,513.8 700.8,518.9 701.1,520.1 701.5,516.1 701.8,510.6 702.2,508.5 702.5,512.5 702.9,520.9 703.2,546.2 703.6,564 703.9,543.5 704.3,512.5 704.6,503.8 705,500.9 705.3,485 705.7,468 706,481.6 706.4,484.4 706.7,475 707.1,469.2 707.4,466.5 707.8,473.4 708.1,484.4 708.5,487.2 708.8,492.8 709.2,503.1 709.5,540.1 709.9,566 710.2,542.9 710.6,515 710.9,512.3 711.3,515.5 711.6,523.9 712,534.1 712.3,540.1 712.7,537.7 713,527.2 713.4,512.3 713.7,499.1 714.1,493.1 714.4,495.3 714.8,500.8 715.1,486.2 715.5,470 715.8,479.1 716.2,486 716.5,493.2 716.9,505.1 717.2,512.7 717.6,511 717.9,503.7 718.3,499.4 718.6,502.8 719,511.6 719.3,520 719.7,523.2 720,522.4 720.4,514.2 720.7,503.8 721.1,496 721.4,495.9 721.8,503.9 722.1,513.5 722.5,515.8 722.8,507.5 723.2,494.3 723.5,484.7 723.9,484.4 724.2,493.7 724.6,507.1 724.9,517.4 725.3,520 725.6,515.1 726,508.3 726.3,505.8 726.7,509.4 727,515.2 727.4,517.5 727.7,514.1 728.1,508.7 728.4,506.8 728.8,509.6 729.1,513.1 729.5,511.4 729.8,502.6 730.2,492.1 730.5,487.8 730.9,493.6 731.2,505 731.6,512.7 731.9,511.4 732.3,504 732.6,497.7 733,497.4 733.3,502.8 733.7,510.4 734,517.1 734.4,520.6 734.7,519.3 735.1,511.8 735.4,500.2 735.8,489.6 736.1,488.4 736.5,498 736.8,511.7 737.2,519.6 737.5,516.1 737.9,506 738.2,499.2 738.6,499 738.9,499.3 739.3,493.4 739.6,484.2 740,483.3 740.3,498.6 740.7,523.7 741,542.9 741.4,544.6 741.7,530.6 742.1,512.9 742.4,502.1 742.8,499.4 743.1,500.2 743.5,501.3 743.8,503.2 744.2,507.3 744.5,511.4 744.9,511 745.2,504.8 745.6,496 745.9,490 746.3,489.9 746.6,495.2 747,503.7 747.3,513.3 747.7,521 748,521.8 748.4,512.8 748.7,498.3 749.1,488.8 749.4,492.3 749.8,506.5 750.1,521 750.5,526.5 750.8,521.6 751.2,512.4 751.5,505.1 751.9,502.7 752.2,503.7 752.6,505.8 752.9,507.7 753.3,509.7 753.6,512.3 754,515 754.3,515.9 754.7,513.6 755,507.7 755.4,499.8 755.7,492.9 756.1,490.4 756.4,493.8 756.8,501.8 757.1,510.4 757.5,515.3 757.8,515 758.2,510.5 758.5,503.9 758.9,497.7 759.2,494 759.6,494.7 759.9,500.7 760.3,510.4 760.6,520.1 761,525.2 761.3,523.2 761.7,515.4 762,506.3 762.4,500.5 762.7,500.3 763.1,504.3 763.4,508.7 763.8,510.4 764.1,509.8 764.5,509.8 764.8,511.6 765.2,512.2 765.5,508.4 765.9,501.2 766.2,496.3 766.6,497.8 766.9,503.9 767.3,509.5 767.6,510.8 768,507.9 768.3,502.7 768.7,497.7 769,494.9 769.4,496.9 769.7,505.2 770.1,517.2 770.4,526.4 770.8,526.9 771.1,518.7 771.5,507 771.8,497.8 772.2,493.2 772.5,493.6 772.9,499.2 773.2,508.5 773.6,516.8 773.9,519.1 774.3,514.5 774.6,508.5 775,506.1 775.3,507.7 775.7,510 776,509.5 776.4,504.9 776.7,497.2 777.1,490.7 777.4,491.5 777.8,501.3 778.1,513.8 778.5,519.8 778.8,516.6 779.2,509.7 779.5,506.5 779.9,508.6 780.2,512.1 780.6,512.7 780.9,509.3 781.3,504 781.6,499.6 782,498.2 782.3,501 782.7,507.1 783,513.6 783.4,516.6 783.7,513.6 784.1,506.1 784.4,499 784.8,497.5 785.1,502.1 785.5,508.6 785.8,511.9 786.2,510.6 786.5,507.8 786.9,506 787.2,504.1 787.6,500.5 787.9,496.2 788.3,495.4 788.6,500 789,508.1 789.3,516.2 789.7,521.6 790,522.8 790.4,519.9 790.7,513.7 791.1,507.5 791.4,504 791.8,503.8 792.1,504.9 792.5,506.1 792.8,507.2 793.2,508.6 793.5,509.7 793.9,508.9 794.2,506.5 794.6,503.7 794.9,500.8 795.3,497.2 795.6,493.2 796,491.1 796.3,494.6 796.7,503.7 797,514.3 797.4,521.3 797.7,522.3 798.1,519.5 798.4,516.5 798.8,513.7 799.1,509 799.5,502.1 799.8,496.8 800.2,498.9 800.5,509.5 800.9,521.4 801.2,525.3 801.6,516.7 801.9,500 802.3,484.1 802.6,476.6 803,480.8 803.3,495.8 803.7,515.9 804,531.1 804.4,532.2 804.7,519 805.1,501.8 805.4,493 805.8,496.1 806.1,504.5 806.5,509.8 806.8,510 807.2,508.6 807.5,508.9 807.9,510.6 808.2,511.7 808.6,511.3 808.9,509.7 809.3,507.5 809.6,505.5 810,504.7 810.3,505.9 810.7,508.2 811,509.1 811.4,507.6 811.7,505.7 812.1,506.9 812.4,511.9 812.8,516.2 813.1,514.5 813.5,506.2 813.8,496.4 814.2,492.3 814.5,496 814.9,503.2 815.2,507.4 815.6,505.7 815.9,500.7 816.3,497.6 816.6,499.8 817,505.8 817.3,512.6 817.7,516.6 818,516.1 818.4,511.9 818.7,506.8 819.1,505.2 819.4,510.5 819.8,520.7 820.1,529.4 820.5,530.2 820.8,521.8 821.2,508.9 821.5,498 821.9,491.5 822.2,488.5 822.6,488.5 822.9,491.9 823.3,498.6 823.6,506 824,510.2 824.3,509.7 824.7,505.8 825,500.5 825.4,496.1 825.7,494.6 826.1,497.9 826.4,507.1 826.8,519.5 827.1,528.7 827.5,528.7 827.8,518.2 828.2,503.2 828.5,494 828.9,497.3 829.2,510.5 829.6,523.6 829.9,526.9 830.3,519.1 830.6,507.2 831,498.6 831.3,495.7 831.7,497.8 832,503 832.4,509.8 832.7,514.6 833.1,513.9 833.4,507.3 833.8,498.5 834.1,492.1 834.5,491.1 834.8,495.7 835.2,504.4 835.5,514.7 835.9,522.3 836.2,522.2 836.6,513.2 836.9,500.2 837.3,491.5 837.6,492.4 838,500.5 838.3,508.7 838.7,512.3 839,511.5 839.4,508.6 839.7,505.7 840.1,505.1 840.4,510.8 840.8,524.1 841.1,536.9 841.5,534.8 841.8,510.4 842.2,475.4 842.5,455.6 842.9,468.5 843.2,505.8 843.6,539.7 843.9,547.9 844.3,531.2 844.6,508.7 845,496.5 845.3,496.2 845.7,499.4 846,499.7 846.4,497.7 846.7,497.9 847.1,502.5 847.4,509.7 847.8,515.2 848.1,515.6 848.5,510.4 848.8,503.2 849.2,498.6 849.5,498.4 849.9,501.1 850.2,504.3 850.6,508.6 850.9,515.6 851.3,523.6 851.6,526.8 852,519.5 852.3,503.1 852.7,486.6 853,479.9 853.4,486.9 853.7,503.1 854.1,520.2 854.4,531.4 854.8,533.2 855.1,524.6 855.5,508.1 855.8,490.9 856.2,482.2 856.5,487.5 856.9,503.5 857.2,519.3 857.6,524.7 857.9,518.2 858.3,507.5 858.6,501.8 859,504.1 859.3,508.5 859.7,507.9 860,500.3 860.4,491.7 860.7,490.4 861.1,499.6 861.4,514.5 861.8,525.5 862.1,524.7 862.5,511.8 862.8,495 863.2,485.1 863.5,488.6 863.9,502.4 864.2,516.7 864.6,523 864.9,520 865.3,513.8 865.6,511.4 866,513.8 866.3,516.1 866.7,512.6 867,503.4 867.4,494.5 867.7,492.7 868.1,500.1 868.4,512.2 868.8,520.8 869.1,519.9 869.5,510.7 869.8,499.9 870.2,493.7 870.5,493.6 870.9,497 871.2,501.5 871.6,506.5 871.9,511.2 872.3,513.5 872.6,511.9 873,507 873.3,502.7 873.7,501.6 874,502.8 874.4,503.6 874.7,503.6 875.1,506.2 875.4,514.4 875.8,525.2 876.1,531 876.5,526 876.8,511.6 877.2,496 877.5,488.2 877.9,491.4 878.2,501.6 878.6,510.4 878.9,511.1 879.3,504.4 879.6,497.5 880,497.4 880.3,504.5 880.7,513.2 881,517.3 881.4,515.2 881.7,509.8 882.1,504.4 882.4,501.3 882.8,501.6 883.1,505.5 883.5,511.4 883.8,515.4 884.2,514.8 884.5,510.9 884.9,506.9 885.2,504.6 885.6,502.8 885.9,500.1 886.3,498.1 886.6,499.8 887,505.5 887.3,511.9 887.7,514.6 888,512.2 888.4,507.3 888.7,503.1 889.1,501.3 889.4,502.1 889.8,505.4 890.1,511.6 890.5,518.6 890.8,521.5 891.2,515.8 891.5,503.2 891.9,492 892.2,489.9 892.6,497.4 892.9,508.4 893.3,516.8 893.6,520.9 894,521.8 894.3,518.4 894.7,509 895,494.9 895.4,482.7 895.7,480.4 896.1,490.6 896.4,508.3 896.8,524.2 897.1,530.6 897.5,525.5 897.8,513.5 898.2,502.6 898.5,498.4 898.9,500.2 899.2,502.4 899.6,500.4 899.9,496.2 900.3,497 900.6,508.1 901,525.9 901.3,539.4 901.7,538.3 902,521.7 902.4,498.7 902.7,482.1 903.1,479 903.4,487.2 903.8,498.7 904.1,506 904.5,507 904.8,505.4 905.2,506.2 905.5,509.8 905.9,512.2 906.2,510.1 906.6,504.8 906.9,501.4 907.3,503 907.6,508.4 908,514.4 908.3,518.6 908.7,519.2 909,516.1 909.4,509.9 909.7,503.4 910.1,500.3 910.4,502.6 910.8,508.5 911.1,514.3 911.5,516.6 911.8,514.4 912.2,508.4 912.5,501.2 912.9,496.8 913.2,497.8 913.6,502.1 913.9,504.1 914.3,500.6 914.6,496 915,497.5 915.3,507.1 915.7,517.7 916,519.7 916.4,511.1 916.7,499.6 917.1,494.9 917.4,498.8 917.8,505.5 918.1,508 918.5,506.6 918.8,506.8 919.2,512.5 919.5,520.7 919.9,524.5 920.2,519.9 920.6,510.2 920.9,502.7 921.3,502.4 921.6,508.3 922,515.5 922.3,518.6 922.7,516 923,509.7 923.4,503.5 923.7,499.3 924.1,497 924.4,495.1 924.8,493.7 925.1,494.4 925.5,497.8 925.8,501.5 926.2,501.8 926.5,497.2 926.9,492 927.2,492.5 927.6,500.5 927.9,512.5 928.3,522.8 928.6,528.2 929,528.7 929.3,524.7 929.7,516.6 930,507.4 930.4,501.9 930.7,503.5 931.1,510.9 931.4,518.5 931.8,521.4 932.1,519.1 932.5,513.7 932.8,506.2 933.2,496.9 933.5,486.8 933.9,480.8 934.2,484 934.6,495.9 934.9,510.6 935.3,520.6 935.6,521.3 936,514.5 936.3,505.7 936.7,499.4 937,497 937.4,496.9 937.7,498.1 938.1,503 938.4,513.4 938.8,525.2 939.1,529.8 939.5,521.4 939.8,504.1 940.2,489.5 940.5,486.8 940.9,495.9 941.2,508.7 941.6,515.8 941.9,514.4 942.3,509.7 942.6,508.6 943,513.4 943.3,518.9 943.7,517.9 944,509.6 944.4,500.2 944.7,496.2 945.1,498.7 945.4,504 945.8,508.5 946.1,511.3 946.5,512.4 946.8,510.1 947.2,503.2 947.5,493.7 947.9,487.8 948.2,490.7 948.6,501.3 948.9,512.8 949.3,518.9 949.6,518.4 950,515.4 950.3,513.6 950.7,513.6 951,513.3 951.4,510.9 951.7,507.3 952.1,504.8 952.4,504.9 952.8,506.6 953.1,507.2 953.5,505.3 953.8,501.9 954.2,500.4 954.5,502.8 954.9,508.6 955.2,513.7 955.6,513.6 955.9,506.8 956.3,497.4 956.6,492.2 957,495.9 957.3,506.2 957.7,515.7 958,517.1 958.4,509.4 958.7,499.1 959.1,495.1 959.4,501.7 959.8,515.3 960.1,527.8 960.5,532.8 960.8,528.5 961.2,516.5 961.5,500.4 961.9,485.6 962.2,478.8 962.6,484.1 962.9,498.8 963.3,515 963.6,524.5 964,523.7 964.3,514.2 964.7,501.7 965,493.1 965.4,493.5 965.7,502.3 966.1,512.4 966.4,516 966.8,511.1 967.1,503 967.5,498.6 967.8,500.3 968.2,505.5 968.5,510.8 968.9,514.7 969.2,516.9 969.6,516.8 969.9,514.3 970.3,510.8 970.6,507.8 971,505.6 971.3,503.5 971.7,501.7 972,502.1 972.4,504.9 972.7,508 973.1,508.7 973.4,506.5 973.8,503.7 974.1,503.1 974.5,504.9 974.8,506.9 975.2,506.6 975.5,503.5 975.9,500.2 976.2,500.3 976.6,504.8 976.9,510.6 977.3,513.2 977.6,511.1 978,507.8 978.3,508.3 978.7,513.5 979,518.7 979.4,517.6 979.7,508.7 980.1,498.1 980.4,494.1 980.8,499.3 981.1,508.6 981.5,513.5 981.8,510.9 982.2,504.8 982.5,500.9 982.9,501.2 983.2,502.9 983.6,503.2 983.9,503 984.3,506 984.6,513.1 985,520.4 985.3,521.7 985.7,514.5 986,502.9 986.4,493.8 986.7,491.5 987.1,495.4 987.4,503.4 987.8,513.7 988.1,524.5 988.5,531.2 988.8,528.8 989.2,516.7 989.5,500.3 989.9,487 990.2,481.3 990.6,483.9 990.9,493.3 991.3,507.3 991.6,521 992,528 992.3,524.5 992.7,512.8 993,499.4 993.4,490 993.7,486.8 994.1,489.5 994.4,497.5 994.8,509.8 995.1,522.4 995.5,529.5 995.8,527 996.2,516.3 996.5,504.3 996.9,498.7 997.2,502 997.6,510.5 997.9,516.9 998.3,516.1 998.6,509.1 999,501.2 999.3,498 999.7,501 1000,506.9 1000.4,510.4 1000.7,508.8 1001.1,502.9 1001.4,496.1 1001.8,492 1002.1,492.6 1002.5,498 1002.8,506.1 1003.2,513.4 1003.5,517.3 1003.9,517.8 1004.2,516 1004.6,513.1 1004.9,510.4 1005.3,509.3 1005.6,510.1 1006,511.3 1006.3,510.7 1006.7,508.3 1007,506.8 1007.4,507.1 1007.7,506.4 1008.1,502.9 1008.4,498.5 1008.8,497.6 1009.1,500.8 1009.5,503.5 1009.8,502.6 1010.2,501.3 1010.5,504.7 1010.9,512.8 1011.2,519.1 1011.6,517.6 1011.9,509.5 1012.3,500.9 1012.6,497.1 1013,499.3 1013.3,505.4 1013.7,512.2 1014,517 1014.4,518.6 1014.7,517.6 1015.1,515.2 1015.4,511 1015.8,504.5 1016.1,497.9 1016.5,496.6 1016.8,503.1 1017.2,512.4 1017.5,514.7 1017.9,504.7 1018.2,489.1 1018.6,480.8 1018.9,487.5 1019.3,504.5 1019.6,519.2 1020,522.3 1020.3,515.8 1020.7,508.6 1021,508.3 1021.4,514.9 1021.7,522.6 1022.1,525.5 1022.4,520.9 1022.8,509.4 1023.1,495.4 1023.5,485.7 1023.8,486.8 1024.2,499.4 1024.5,516.5 1024.9,527.8 1025.2,526.7 1025.6,513.8 1025.9,495.7 1026.3,480.4 1026.6,473.9 1027,478.2 1027.3,491.5 1027.7,508.3 1028,521.5 1028.4,526.7 1028.7,524 1029.1,517.4 1029.4,511.6 1029.8,508.7 1030.1,508.4 1030.5,510.3 1030.8,514.6 1031.2,520.7 1031.5,525.6 1031.9,524.4 1032.2,515.1 1032.6,501.6 1032.9,490.9 1033.3,487.3 1033.6,490.5 1034,496 1034.3,499.9 1034.7,501.2 1035,500.3 1035.4,499.3 1035.7,500.1 1036.1,503.1 1036.4,508.2 1036.8,513.8 1037.1,518 1037.5,518.6 1037.8,514.7 1038.2,508.2 1038.5,504.5 1038.9,507 1039.2,513 1039.6,515.9 1039.9,511.1 1040.3,501.5 1040.6,495.6 1041,499 1041.3,510 1041.7,520.7 1042,523.2 1042.4,515.1 1042.7,500.7 1043.1,487.9 1043.4,483.5 1043.8,488.7 1044.1,499.3 1044.5,509.8 1044.8,518.2 1045.2,524.2 1045.5,526 1045.9,520.8 1046.2,510 1046.6,500.9 1046.9,499.8 1047.3,505.5 1047.6,510.4 1048,509.3 1048.3,503.2 1048.7,497.6 1049,496.5 1049.4,500.2 1049.7,507.3 1050.1,515.1 1050.4,519.7 1050.8,517.2 1051.1,507.3 1051.5,495.1 1051.8,488.3 1052.2,490.9 1052.5,499.6 1052.9,508.7 1053.2,514.9 1053.6,518.8 1053.9,521.5 1054.3,521.5 1054.6,516.7 1055,507.3 1055.3,496.8 1055.7,490 1056,491 1056.4,500.1 1056.7,513 1057.1,523.9 1057.4,528.5 1057.8,525.8 1058.1,517.3 1058.5,505.3 1058.8,493.1 1059.2,485.3 1059.5,485.8 1059.9,494.3 1060.2,506.4 1060.6,511.9 1060.9,516 1061.3,518.4 1061.6,517.4 1062,511 1062.3,500.5 1062.7,491.1 1063,488.8 1063.4,495.8 1063.7,508.1 1064.1,518.4 1064.4,520.2 1064.8,512.2 1065.1,500.1 1065.5,492.9 1065.8,496 1066.2,505.9 1066.5,513.9 1066.9,514.7 1067.2,510.5 1067.6,508 1067.9,510.9 1068.3,516.8 1068.6,519.5 1069,515.1 1069.3,505.4 1069.7,496.7 1070,494.6 1070.4,498.3 1070.7,502.1 1071.1,501.8 1071.4,498.8 1071.8,498.3 1072.1,503.1 1072.5,509.3 1072.8,510.7 1073.2,504.9 1073.5,496.7 1073.9,494.9 1074.2,503.5 1074.6,516.8 1074.9,524.4 1075.3,520.5 1075.6,508.8 1076,499.3 1076.3,498.9 1076.7,506.6 1077,516.4 1077.4,521.4 1077.7,518.2 1078.1,508.8 1078.4,498.1 1078.8,490.8 1079.1,488.8 1079.5,490.8 1079.8,495.1 1080.2,501 1080.5,506.7 1080.9,510.1 1081.2,509.7 1081.6,506.5 1081.9,503.4 1082.3,503.1 1082.6,505.5 1083,509 1083.3,511.6 1083.7,511.6 1084,509.8 1084.4,507.6 1084.7,506.7 1085.1,507.9 1085.4,509.8 1085.8,509.8 1086.1,506.3 1086.5,500.4 1086.8,495.4 1087.2,495.2 1087.5,500 1087.9,507.5 1088.2,514.2 1088.6,518.5 1088.9,520.9 1089.3,521.6 1089.6,518.5 1090,510.1 1090.3,499.6 1090.7,494.9 1091,502.7 1091.4,520.3 1091.7,536.2 1092.1,538.9 1092.4,526.5 1092.8,507.4 1093.1,492.7 1093.5,487.7 1093.8,490.1 1094.2,494.5 1094.5,497.4 1094.9,498.5 1095.2,498.8 1095.6,498.9 1095.9,499.1 1096.3,499.5 1096.6,500.2 1097,498.4 1097.3,494.4 1097.7,492.7 1098,498.7 1098.4,513.4 1098.7,529.5 1099.1,537.6 1099.4,534.6 1099.8,525.6 1100.1,518.5 1100.5,516.5 1100.8,516.9 1101.2,516.7 1101.5,515.8 1101.9,516.5 1102.2,519.2 1102.6,521 1102.9,519 1103.3,512.8 1103.6,505.3 1104,499.6 1104.3,497 1104.7,496.3 1105,496.3 1105.4,496.1 1105.7,495.8 1106.1,495.5 1106.4,494 1106.8,489.4 1107.1,481.6 1107.5,473.8 1107.8,470.9 1108.2,476 1108.5,485.2 1108.9,493.2 1109.2,497.7 1109.6,499.4 1109.9,501.4 1110.3,506 1110.6,512.3 1111,518.1 1111.3,521.6 1111.7,521.5 1112,521.9 1112.4,524.4 1112.7,528.2 1113.1,530.2 1113.4,528.4 1113.8,523.9 1114.1,519.4 1114.5,517.1 1114.8,516.7 1115.2,517 1115.5,517.2 1115.9,517.2 1116.2,517.3 1116.6,516.8 1116.9,515.3 1117.3,513 1117.6,510.8 1118,509 1118.3,506.4 1118.7,501.8 1119,495.9 1119.4,491.1 1119.7,489.8 1120.1,492.2 1120.4,495.7 1120.8,496.8 1121.1,493.8 1121.5,488.2 1121.8,484.4 1122.2,487 1122.5,495.7 1122.9,505.5 1123.2,509.7 1123.6,505.4 1123.9,497.4 1124.3,494.2 1124.6,500.3 1125,512.2 1125.3,522.3 1125.7,525.8 1126,524.4 1126.4,523.3 1126.7,525.1 1127.1,529.1 1127.4,532.1 1127.8,531.9 1128.1,528.9 1128.5,525.8 1128.8,525.5 1129.2,526.9 1129.5,527.7 1129.9,523.5 1130.2,513.5 1130.6,501.9 1130.9,493.2 1131.3,488.3 1131.6,484.9 1132,480.4 1132.3,477.2 1132.7,479.8 1133,488.1 1133.4,496.2 1133.7,497 1134.1,490.1 1134.4,483.1 1134.8,483.6 1135.1,491.7 1135.5,500 1135.8,501.6 1136.2,496.9 1136.5,492.4 1136.9,494 1137.2,501.6 1137.6,510 1137.9,513.5 1138.3,511.7 1138.6,509.3 1139,511 1139.3,517.1 1139.7,523.1 1140,525.2 1140.4,524.6 1140.7,525.7 1141.1,531.2 1141.4,538.6 1141.8,543 1142.1,541.7 1142.5,536.6 1142.8,531.5 1143.2,528.3 1143.5,527.6 1143.9,527.8 1144.2,527.6 1144.6,526.2 1144.9,522.5 1145.3,517" stroke="#000" stroke-width="1.2" stroke-linejoin="miter"/>
<polyline points="1145.3,517 1145.6,505.7 1146,494.4 1146.3,487.3 1146.7,486.3 1147,488.7 1147.4,487.9 1147.7,479.2 1148.1,464.3 1148.4,450.2 1148.8,443.1 1149.1,444.2 1149.5,449.7 1149.8,454.7 1150.2,457.1 1150.5,456.7 1150.9,455.2 1151.2,457.5 1151.6,462.3 1151.9,468.8 1152.3,479.7 1152.6,498.6 1153,526.4 1153.3,558.1 1153.7,581.8 1154,590.7 1154.4,587.9 1154.7,580.8 1155.1,576.7 1155.4,574.8 1155.8,567.6 1156.1,553.3 1156.5,538.4 1156.8,527.7 1157.2,518.9 1157.5,505.7 1157.9,484.4 1158.2,460 1158.6,440.9 1158.9,430.9 1159.3,429.8 1159.6,436 1160,444.3 1160.3,452.2 1160.7,459.2 1161,463.4 1161.4,468.8 1161.7,480.8 1162.1,500.6 1162.4,524.3 1162.8,544.7 1163.1,556.4 1163.5,561.7 1163.8,566.7 1164.2,573.8 1164.5,582.9 1164.9,588.1 1165.2,582.4 1165.6,568.1 1165.9,550.7 1166.3,532.9 1166.6,514.5 1167,494.6 1167.3,474.7 1167.7,460.1 1168,452.6 1168.4,448.6 1168.7,443.4 1169.1,434.6 1169.4,424.9 1169.8,422.1 1170.1,431 1170.5,447.9 1170.8,470.4 1171.2,496.1 1171.5,522.7 1171.9,549 1172.2,569.9 1172.6,579.9 1172.9,577.7 1173.3,565.3 1173.6,549 1174,538.6 1174.3,535.5 1174.7,533.8 1175,528.8 1175.4,515.7 1175.7,496.1 1176.1,475.2 1176.4,457.1 1176.8,445.8 1177.1,444.9 1177.5,451.5 1177.8,463.3 1178.2,478.2 1178.5,490.7 1178.9,501.5 1179.2,513.3 1179.6,527.1 1179.9,542.6 1180.3,555.7 1180.6,560.6 1181,558.1 1181.3,549.6 1181.7,537.1 1182,526.4 1182.4,518.3 1182.7,511.2 1183.1,502.8 1183.4,491.1 1183.8,477.6 1184.1,467.2 1184.5,462.1 1184.8,463 1185.2,472 1185.5,483 1185.9,495.1 1186.2,507.9 1186.6,519.8 1186.9,530.4 1187.3,538.4 1187.6,541.4 1188,542 1188.3,542 1188.7,540 1189,534.8 1189.4,521.4 1189.7,499.9 1190.1,478.6 1190.4,466.4 1190.8,466 1191.1,472.6 1191.5,477.3 1191.8,476.6 1192.2,477.7 1192.5,482.4 1192.9,493.9 1193.2,509.9 1193.6,523.8 1193.9,532.3 1194.3,536.2 1194.6,538.5 1195,545.5 1195.3,554.3 1195.7,554.9 1196,542 1196.4,518.8 1196.7,497.3 1197.1,488.2 1197.4,489.8 1197.8,491.2 1198.1,483.6 1198.5,468.2 1198.8,454.5 1199.2,453.2 1199.5,461.7 1199.9,473.5 1200.2,484.5 1200.6,494 1200.9,504.8 1201.3,518.3 1201.6,532 1202,543.2 1202.3,550.6 1202.7,553.3 1203,554.7 1203.4,557.4 1203.7,558.4 1204.1,555.5 1204.4,547.1 1204.8,531.1 1205.1,509.5 1205.5,486.4 1205.8,465.1 1206.2,451.1 1206.5,445 1206.9,444.7 1207.2,449.8 1207.6,457 1207.9,464.4 1208.3,475.3 1208.6,490.8 1209,509.8 1209.3,531.5 1209.7,552.3 1210,570.7 1210.4,582.2 1210.7,577.4 1211.1,558.2 1211.4,534.5 1211.8,517.7 1212.1,513 1212.5,513.7 1212.8,506.6 1213.2,488 1213.5,464.4 1213.9,446 1214.2,440.9 1214.6,445 1214.9,451.5 1215.3,460.7 1215.6,476.5 1216,501.6 1216.3,533.3 1216.7,558.8 1217,568.8 1217.4,563 1217.7,546.8 1218.1,532.6 1218.4,523 1218.8,513.2 1219.1,500.4 1219.5,488 1219.8,482.4 1220.2,487.6 1220.5,497 1220.9,500.8 1221.2,495.1 1221.6,483.4 1221.9,474.3 1222.3,474.9 1222.6,485.6 1223,502.1 1223.3,518.2 1223.7,527.8 1224,529.6 1224.4,526.6 1224.7,523.1 1225.1,521.8 1225.4,521.7 1225.8,520.4 1226.1,517.9 1226.5,516.4 1226.8,515.5 1227.2,511.1 1227.5,500.4 1227.9,484.5 1228.2,469.8 1228.6,462.5 1228.9,464.1 1229.3,471.9 1229.6,481.2 1230,487.4 1230.3,487.9 1230.7,486.9 1231,484.2 1231.4,485.7 1231.7,496.2 1232.1,515 1232.4,538 1232.8,557.9 1233.1,566.6 1233.5,563.8 1233.8,552.1 1234.2,534.6 1234.5,518.1 1234.9,501.8 1235.2,483.7 1235.6,464.5 1235.9,448.2 1236.3,442.7 1236.6,453 1237,471.6 1237.3,489.4 1237.7,501 1238,505.6 1238.4,509.8 1238.7,517.6 1239.1,526.6 1239.4,533 1239.8,534.7 1240.1,532.8 1240.5,533.1 1240.8,535.8 1241.2,535.7 1241.5,529.7 1241.9,515 1242.2,495.2 1242.6,477.7 1242.9,467.8 1243.3,467.4 1243.6,475 1244,485 1244.3,495.1 1244.7,503.3 1245,506.4 1245.4,505.2 1245.7,503.7 1246.1,507.2 1246.4,518.3 1246.8,532.4 1247.1,543.3 1247.5,545.1 1247.8,535.5 1248.2,518.2 1248.5,501.3 1248.9,492.3 1249.2,493.7 1249.6,501.4 1249.9,507.8 1250.3,508.8 1250.6,505.4 1251,501.3 1251.3,499.6 1251.7,501.3 1252,504 1252.4,507.1 1252.7,511.9 1253.1,519.4 1253.4,529.2 1253.8,538.2 1254.1,542.5 1254.5,541.3 1254.8,537.4 1255.2,534.4 1255.5,535.7 1255.9,539.5 1256.2,539.8 1256.6,533.4 1256.9,520.5 1257.3,505 1257.6,490.9 1258,479.9 1258.3,472.4 1258.7,470.7 1259,475.2 1259.4,483.1 1259.7,490.4 1260.1,493.8 1260.4,493.9 1260.8,496.9 1261.1,505.5 1261.5,518.2 1261.8,533.5 1262.2,547.9 1262.5,560 1262.9,565.1 1263.2,557 1263.6,541.3 1263.9,527.2 1264.3,518.2 1264.6,510.6 1265,497.7 1265.3,477.1 1265.7,456.4 1266,442.1 1266.4,438.5 1266.7,449.7 1267.1,471.8 1267.4,497.9 1267.8,521.9 1268.1,537 1268.5,542.3 1268.8,541.5 1269.2,533.1 1269.5,525.8 1269.9,522.9 1270.2,524.5 1270.6,528.3 1270.9,526.5 1271.3,512.7 1271.6,489.9 1272,467.3 1272.3,454.8 1272.7,458.2 1273,468.4 1273.4,480.1 1273.7,493.6 1274.1,509.1 1274.4,525.4 1274.8,537.9 1275.1,541.9 1275.5,539.9 1275.8,536.1 1276.2,529.9 1276.5,524.4 1276.9,517.6 1277.2,508.5 1277.6,499 1277.9,489.7 1278.3,481.5 1278.6,476.6 1279,474.5 1279.3,475.6 1279.7,480.8 1280,487 1280.4,495.4 1280.7,506.9 1281.1,520.1 1281.4,532.9 1281.8,541.5 1282.1,541.6 1282.5,534.7 1282.8,524.4 1283.2,514.3 1283.5,508.6 1283.9,502.6 1284.2,492.2 1284.6,478 1284.9,464.8 1285.3,460.8 1285.6,467.3 1286,480.4 1286.3,496.3 1286.7,512.1 1287,524.8 1287.4,531.9 1287.7,532 1288.1,527.5 1288.4,525 1288.8,527.5 1289.1,532.2 1289.5,533.9 1289.8,526.5 1290.2,510.6 1290.5,494.1 1290.9,484.2 1291.2,483.7 1291.6,488.5 1291.9,491.9 1292.3,492 1292.6,491.3 1293,492.6 1293.3,497.7 1293.7,504.3 1294,510 1294.4,515.7 1294.7,523 1295.1,531.6 1295.4,537.7 1295.8,534.5 1296.1,521.6 1296.5,505.7 1296.8,494 1297.2,489 1297.5,486.6 1297.9,482 1298.2,477.3 1298.6,476.7 1298.9,481.9 1299.3,490.7 1299.6,497.6 1300,499.8 1300.3,500.4 1300.7,504.9 1301,515.3 1301.4,528.5 1301.7,559.4 1302.1,581 1302.4,558 1302.8,529 1303.1,517.9 1303.5,506.9 1303.8,492.5 1304.2,480.5 1304.5,447.2 1304.9,425 1305.2,442.3 1305.6,462.2 1305.9,467.5 1306.3,471.8 1306.6,471.4 1307,543.8 1307.3,622.7 1307.7,532.8 1308,437.5 1308.4,439.8 1308.7,447.6 1309.1,456.2 1309.4,461.5 1309.8,408 1310.1,354 1310.5,404.6 1310.8,455.4 1311.2,464.8 1311.5,588 1311.9,695 1312.2,613.4 1312.6,560.9 1312.9,584 1313.3,592.7 1313.3,556" stroke="#000" stroke-width="1.0" stroke-linejoin="miter"/>
<polyline points="341.3,507.3 341.8,507 342.3,506.7 342.8,506.5 343.3,506.3 343.8,506.2 344.3,506.1 344.8,506.2 345.3,506.3 345.8,506.5 346.3,506.8 346.8,507.1 347.3,507.4 347.8,507.7 348.3,507.9 348.8,508.1 349.3,508.1 349.8,508 350.3,507.8 350.8,507.5 351.3,507.1 351.8,506.7 352.3,506.3 352.8,506 353.3,505.8 353.8,505.7 354.3,505.7 354.8,505.9 355.3,506.2 355.8,506.6 356.3,507.1 356.8,507.5 357.3,507.9 357.8,508.3 358.3,508.4 358.8,508.5 359.3,508.3 359.8,508 360.3,507.6 360.8,507.1 361.3,506.6 361.8,506.1 362.3,505.7 362.8,505.5 363.3,505.5 363.8,505.7 364.3,506 364.8,506.4 365.3,506.9 365.8,507.4 366.3,507.9 366.8,508.1 367.3,508.2 367.8,508.2 368.3,508 368.8,507.7 369.3,507.3 369.8,507 370.3,506.7 370.8,506.5 371.3,506.3 371.8,506.3 372.3,506.3 372.8,506.4 373.3,506.5 373.8,506.7 374.3,506.8 374.8,507 375.3,507.1 375.8,507.2 376.3,507.3 376.8,507.4 377.3,507.5 377.8,507.5 378.3,507.5 378.8,507.4 379.3,507.3 379.8,507.2 380.3,507 380.8,506.9 381.3,506.7 381.8,506.6 382.3,506.6 382.8,506.5 383.3,506.6 383.8,506.6 384.3,506.7 384.8,506.9 385.3,507 385.8,507.1 386.3,507.3 386.8,507.3 387.3,507.4 387.8,507.4 388.3,507.4 388.8,507.3 389.3,507.2 389.8,507.1 390.3,507 390.8,506.9 391.3,506.8 391.8,506.7 392.3,506.6 392.8,506.6 393.3,506.7 393.8,506.7 394.3,506.8 394.8,506.9 395.3,507.1 395.8,507.2 396.3,507.2 396.8,507.3 397.3,507.3 397.8,507.2 398.3,507.2 398.8,507.1 399.3,507 399.8,507 400.3,507 400.8,507 401.3,507 401.8,507 402.3,507 402.8,507 403.3,507 403.8,506.9 404.3,506.8 404.8,506.8 405.3,506.7 405.8,506.6 406.3,506.7 406.8,506.7 407.3,506.9 407.8,507.1 408.3,507.2 408.8,507.4 409.3,507.6 409.8,507.6 410.3,507.6 410.8,507.5 411.3,507.4 411.8,507.1 412.3,506.9 412.8,506.6 413.3,506.4 413.8,506.3 414.3,506.2 414.8,506.2 415.3,506.3 415.8,506.5 416.3,506.7 416.8,507 417.3,507.2 417.8,507.5 418.3,507.7 418.8,507.8 419.3,507.9 419.8,507.9 420.3,507.8 420.8,507.6 421.3,507.3 421.8,507 422.3,506.7 422.8,506.4 423.3,506.2 423.8,506.1 424.3,506.1 424.8,506.2 425.3,506.4 425.8,506.7 426.3,507 426.8,507.3 427.3,507.5 427.8,507.7 428.3,507.8 428.8,507.7 429.3,507.6 429.8,507.4 430.3,507.2 430.8,507 431.3,506.8 431.8,506.7 432.3,506.6 432.8,506.6 433.3,506.7 433.8,506.8 434.3,506.9 434.8,507 435.3,507.1 435.8,507.2 436.3,507.2 436.8,507.1 437.3,507.1 437.8,506.9 438.3,506.8 438.8,506.7 439.3,506.7 439.8,506.7 440.3,506.8 440.8,507 441.3,507.2 441.8,507.3 442.3,507.5 442.8,507.5 443.3,507.4 443.8,507.3 444.3,507.1 444.8,506.8 445.3,506.5 445.8,506.3 446.3,506.2 446.8,506.3 447.3,506.5 447.8,506.9 448.3,507.3 448.8,507.7 449.3,508 449.8,508.2 450.3,508.2 450.8,507.9 451.3,507.5 451.8,507 452.3,506.5 452.8,506 453.3,505.6 453.8,505.4 454.3,505.5 454.8,505.8 455.3,506.3 455.8,506.9 456.3,507.5 456.8,508.1 457.3,508.4 457.8,508.6 458.3,508.5 458.8,508.2 459.3,507.8 459.8,507.2 460.3,506.7 460.8,506.3 461.3,506 461.8,505.9 462.3,505.9 462.8,506.1 463.3,506.3 463.8,506.7 464.3,507 464.8,507.2 465.3,507.4 465.8,507.5 466.3,507.6 466.8,507.5 467.3,507.4 467.8,507.2 468.3,507.1 468.8,507 469.3,506.9 469.8,506.8 470.3,506.8 470.8,506.9 471.3,506.9 471.8,507 472.3,507.1 472.8,507.1 473.3,507.1 473.8,507.1 474.3,507 474.8,507 475.3,506.9 475.8,506.8 476.3,506.8 476.8,506.8 477.3,506.8 477.8,506.8 478.3,506.9 478.8,507 479.3,507.1 479.8,507.1 480.3,507.2 480.8,507.2 481.3,507.2 481.8,507.2 482.3,507.2 482.8,507.1 483.3,507.1 483.8,507.1 484.3,507.1 484.8,507.1 485.3,507 485.8,507 486.3,506.9 486.8,506.8 487.3,506.7 487.8,506.6 488.3,506.6 488.8,506.6 489.3,506.7 489.8,506.9 490.3,507 490.8,507.3 491.3,507.4 491.8,507.6 492.3,507.6 492.8,507.5 493.3,507.4 493.8,507.2 494.3,506.9 494.8,506.6 495.3,506.4 495.8,506.3 496.3,506.3 496.8,506.4 497.3,506.6 497.8,506.9 498.3,507.2 498.8,507.5 499.3,507.6 499.8,507.8 500.3,507.8 500.8,507.7 501.3,507.5 501.8,507.2 502.3,506.9 502.8,506.7 503.3,506.4 503.8,506.2 504.3,506.1 504.8,506.1 505.3,506.2 505.8,506.4 506.3,506.7 506.8,507 507.3,507.4 507.8,507.7 508.3,508 508.8,508.1 509.3,508.1 509.8,508 510.3,507.8 510.8,507.4 511.3,507.1 511.8,506.7 512.3,506.4 512.8,506.2 513.3,506 513.8,506 514.3,506.1 514.8,506.3 515.3,506.5 515.8,506.8 516.3,507.1 516.8,507.3 517.3,507.5 517.8,507.6 518.3,507.7 518.8,507.6 519.3,507.5 519.8,507.4 520.3,507.2 520.8,507.1 521.3,506.9 521.8,506.8 522.3,506.7 522.8,506.6 523.3,506.6 523.8,506.7 524.3,506.7 524.8,506.8 525.3,506.8 525.8,506.9 526.3,507 526.8,507 527.3,507.1 527.8,507.1 528.3,507.1 528.8,507.2 529.3,507.2 529.8,507.2 530.3,507.2 530.8,507.2 531.3,507.2 531.8,507.1 532.3,507.1 532.8,507 533.3,506.9 533.8,506.8 534.3,506.7 534.8,506.6 535.3,506.6 535.8,506.7 536.3,506.7 536.8,506.8 537.3,507 537.8,507.2 538.3,507.3 538.8,507.4 539.3,507.5 539.8,507.5 540.3,507.4 540.8,507.2 541.3,507 541.8,506.8 542.3,506.6 542.8,506.5 543.3,506.4 543.8,506.4 544.3,506.5 544.8,506.7 545.3,506.8 545.8,507.3 546.3,507.9 546.8,508.5 547.3,509.2 547.8,509.7 548.3,509.9 548.8,509.6 549.3,508.6 549.8,506.9 550.3,504.5 550.8,501.8 551.3,499.3 551.8,497.6 552.3,497.2 552.8,498.3 553.3,500.8 553.8,504.1 554.3,507.5 554.8,510.4 555.3,512.3 555.8,513 556.3,512.7 556.8,511.7 557.3,510.4 557.8,509 558.3,507.9 558.8,507 559.3,506.4 559.8,506 560.3,505.8 560.8,505.8 561.3,505.9 561.8,506 562.3,505.6 562.8,506.1 563.3,506.7 563.8,507.3 564.3,507.7 564.8,508 565.3,508.2 565.8,508.3 566.3,508.2 566.8,508.1 567.3,507.8 567.8,507.6 568.3,507.3 568.8,507.1 569.3,506.9 569.8,506.7 570.3,506.6 570.8,506.5 571.3,506.4 571.8,506.4 572.3,506.3 572.8,506.3 573.3,506.3 573.8,506.4 574.3,506.5 574.8,506.6 575.3,506.8 575.8,507.1 576.3,507.4 576.8,507.7 577.3,507.9 577.8,508 578.3,508.1 578.8,508.1 579.3,507.9 579.8,507.6 580.3,507.3 580.8,506.9 581.3,506.5 581.8,506.1 582.3,505.9 582.8,505.7 583.3,505.7 583.8,505.8 584.3,506.1 584.8,506.5 585.3,506.9 585.8,507.4 586.3,507.8 586.8,508.1 587.3,508.3 587.8,508.4 588.3,508.2 588.8,507.9 589.3,507.5 589.8,507.1 590.3,506.6 590.8,506.2 591.3,505.8 591.8,505.7 592.3,505.7 592.8,505.9 593.3,506.3 593.8,506.7 594.3,507.2 594.8,507.6 595.3,507.9 595.8,508.1 596.3,508 596.8,507.9 597.3,507.6 597.8,507.2 598.3,506.8 598.8,506.5 599.3,506.4 599.8,506.3 600.3,506.4 600.8,506.6 601.3,506.8 601.8,507 602.3,507.2 602.8,507.3 603.3,507.3 603.8,507.3 604.3,507.2 604.8,507 605.3,506.9 605.8,506.9 606.3,506.9 606.8,506.9 607.3,507.1 607.8,507.2 608.3,507.3 608.8,507.3 609.3,507.3 609.8,507.2 610.3,507 610.8,506.9 611.3,506.7 611.8,506.5 612.3,506.4 612.8,506.4 613.3,506.4 613.8,506.5 614.3,506.6 614.8,506.8 615.3,507 615.8,507.1 616.3,507.3 616.8,507.6 617.3,507.8 617.8,508 618.3,508.2 618.8,508.3 619.3,508.3 619.8,508.1 620.3,507.7 620.8,507.1 621.3,506.5 621.8,505.8 622.3,505.2 622.8,504.8 623.3,504.7 623.8,504.9 624.3,505.4 624.8,506.2 625.3,507 625.8,507.8 626.3,508.5 626.8,508.8 627.3,508.8 627.8,508.4 628.3,507.9 628.8,507.3 629.3,506.8 629.8,506.5 630.3,506.4 630.8,506.7 631.3,507.1 631.8,507.5 632.3,507.9 632.8,508.1 633.3,508 633.8,507.6 634.3,506.9 634.8,506.2 635.3,505.4 635.8,504.9 636.3,504.8 636.8,505 637.3,505.6 637.8,506.5 638.3,507.4 638.8,508.3 639.3,509 639.8,509.3 640.3,509.2 640.8,508.7 641.3,507.9 641.8,507 642.3,506.1 642.8,505.4 643.3,505 643.8,504.9 644.3,505.2 644.8,505.9 645.3,506.7 645.8,507.5 646.3,508.3 646.8,508.8 647.3,509.1 647.8,509 648.3,508.6 648.8,508 649.3,507.3 649.8,506.6 650.3,505.9 650.8,505.5 651.3,505.3 651.8,505.3 652.3,505.6 652.8,506.1 653.3,506.6 653.8,507.1 654.3,507.6 654.8,507.9 655.3,508 655.8,508 656.3,507.8 656.8,507.5 657.3,507.2 657.8,506.9 658.3,506.6 658.8,506.5 659.3,506.5 659.8,506.5 660.3,506.7 660.8,506.8 661.3,507 661.8,507.2 662.3,507.3 662.8,507.3 663.3,507.3 663.8,507.3 664.3,507.3 664.8,507.3 665.3,507.2 665.8,507.2 666.3,507.1 666.8,507 667.3,506.9 667.8,506.7 668.3,506.5 668.8,506.3 669.3,506.2 669.8,506.2 670.3,506.2 670.8,506.4 671.3,506.8 671.8,507.2 672.3,507.6 672.8,508 673.3,508.3 673.8,508.5 674.3,508.5 674.8,508.2 675.3,507.8 675.8,507.2 676.3,506.6 676.8,505.9 677.3,505.4 677.8,505.1 678.3,505 678.8,505.2 679.3,505.7 679.8,506.4 680.3,507.2 680.8,508 681.3,508.6 681.8,509.1 682.3,509.3 682.8,509.1 683.3,508.7 683.8,507.9 684.3,507.1 684.8,506.2 685.3,505.4 685.8,504.7 686.3,504.4 686.8,504.4 687.3,504.8 687.8,505.4 688.3,506.3 688.8,507.3 689.3,508.3 689.8,509.2 690.3,509.8 690.8,510.1 691.3,510 691.8,509.6 692.3,508.7 692.8,507.7 693.3,506.5 693.8,505.4 694.3,504.5 694.8,504 695.3,503.8 695.8,504.1 696.3,504.7 696.8,505.6 697.3,506.6 697.8,507.7 698.3,507.5 698.8,508 699.3,508.6 699.8,509.4 700.3,511 700.8,511.7 701.3,513.7 701.8,516.4 702.3,519.2 702.8,521.2 703.3,521.8 703.8,519.5 704.3,514.5 704.8,507.8 705.3,500.1 705.8,492.4 706.3,485.4 706.8,480.2 707.3,477.7 707.8,479 708.3,484.3 708.8,492.5 709.3,502.1 709.8,511.9 710.3,520.6 710.8,526.8 711.3,529.3 711.8,528.1 712.3,524.8 712.8,520.1 713.3,514.5 713.8,508.5 714.3,502.9 714.8,498 715.3,494.7 715.8,493.5 716.3,494.5 716.8,497.3 717.3,501.3 717.8,505.6 718.3,509.9 718.8,513.3 719.3,515.3 719.8,515.4 720.3,513.7 720.8,511 721.3,507.7 721.8,504.3 722.3,501.3 722.8,499.2 723.3,498.4 723.8,499.4 724.3,501.5 724.8,504.4 725.3,507.5 725.8,510.6 726.3,513 726.8,514.4 727.3,514.5 727.8,513.1 728.3,510.8 728.8,507.9 729.3,504.9 729.8,502.3 730.3,500.4 730.8,499.6 731.3,500 731.8,501.4 732.3,503.1 732.8,505.1 733.3,507.2 733.8,509.2 734.3,511 734.8,512.6 735.3,512.4 735.8,508.2 736.3,503.9 736.8,500.1 737.3,497.6 737.8,496.7 738.3,497.7 738.8,500.3 739.3,504 739.8,508.3 740.3,512.3 740.8,515.3 741.3,516.8 741.8,516.7 742.3,515 742.8,512.1 743.3,508.6 743.8,505 744.3,502.1 744.8,500.1 745.3,499.4 745.8,499.9 746.3,501.3 746.8,503.2 747.3,505.2 747.8,506.9 748.3,508.2 748.8,508.9 749.3,509.3 749.8,509.4 750.3,509.4 750.8,509.6 751.3,510 751.8,510.4 752.3,510.7 752.8,510.7 753.3,510.2 753.8,509.3 754.3,507.9 754.8,506.2 755.3,504.5 755.8,503.1 756.3,502.1 756.8,501.7 757.3,501.9 757.8,502.7 758.3,504 758.8,505.5 759.3,507.1 759.8,508.5 760.3,509.7 760.8,510.5 761.3,511 761.8,511 762.3,510.8 762.8,510.2 763.3,509.5 763.8,508.5 764.3,507.5 764.8,506.4 765.3,505.4 765.8,504.5 766.3,503.9 766.8,503.6 767.3,503.6 767.8,504 768.3,504.7 768.8,505.7 769.3,506.8 769.8,508 770.3,509 770.8,509.7 771.3,510 771.8,510 772.3,509.5 772.8,508.7 773.3,507.7 773.8,506.6 774.3,505.6 774.8,505 775.3,504.6 775.8,504.7 776.3,505.2 776.8,506 777.3,506.9 777.8,507.7 778.3,508.4 778.8,508.8 779.3,508.8 779.8,508.5 780.3,508 780.8,507.4 781.3,506.8 781.8,506.4 782.3,506.3 782.8,506.4 783.3,506.6 783.8,506.8 784.3,506.9 784.8,506.7 785.3,506.2 785.8,505.5 786.3,504.8 786.8,504.2 787.3,504 787.8,504.4 788.3,505.5 788.8,507.2 789.3,509.2 789.8,511.2 790.3,512.8 790.8,513.6 791.3,513.3 791.8,512.1 792.3,509.8 792.8,507 793.3,504.1 793.8,501.6 794.3,500 794.8,499.4 795.3,500.1 795.8,502 796.3,504.6 796.8,507.5 797.3,510.3 797.8,512.5 798.3,513.7 798.8,513.9 799.3,512.9 799.8,511 800.3,508.5 800.8,506 801.3,503.6 801.8,502 802.3,501.1 802.8,501.2 803.3,502.2 803.8,503.8 804.3,505.7 804.8,507.6 805.3,509.1 805.8,510 806.3,510.3 806.8,510 807.3,509.2 807.8,508.2 808.3,507.3 808.8,506.8 809.3,506.9 809.8,507.3 810.3,508.1 810.8,508.9 811.3,509.4 811.8,509.5 812.3,508.8 812.8,507.5 813.3,505.7 813.8,503.7 814.3,501.9 814.8,500.6 815.3,500.2 815.8,500.8 816.3,502.5 816.8,505.1 817.3,508.2 817.8,511.4 818.3,514.2 818.8,516.1 819.3,516.9 819.8,516.3 820.3,514.4 820.8,511.4 821.3,507.8 821.8,504 822.3,500.6 822.8,498 823.3,496.6 823.8,496.6 824.3,498 824.8,500.4 825.3,503.6 825.8,507.1 826.3,510.3 826.8,512.8 827.3,514.4 827.8,514.9 828.3,514.4 828.8,513.1 829.3,511.3 829.8,509.4 830.3,507.6 830.8,506.2 831.3,505.3 831.8,504.9 832.3,504.8 832.8,504.9 833.3,505 833.8,505.1 834.3,505 834.8,504.9 835.3,504.7 835.8,504.7 836.3,504.8 836.8,505.2 837.3,505.8 837.8,506.6 838.3,507.5 838.8,508.4 839.3,509.2 839.8,509.7 840.3,510 840.8,510 841.3,509.8 841.8,509.3 842.3,508.6 842.8,507.9 843.3,507.2 843.8,506.5 844.3,505.9 844.8,505.4 845.3,505.1 845.8,504.8 846.3,504.8 846.8,504.9 847.3,505.1 847.8,505.6 848.3,506.1 848.8,506.7 849.3,507.3 849.8,507.8 850.3,508.2 850.8,508.3 851.3,508.2 851.8,508 852.3,507.6 852.8,507.3 853.3,507 853.8,507 854.3,507.1 854.8,507.5 855.3,508 855.8,508.4 856.3,508.7 856.8,508.7 857.3,508.3 857.8,507.5 858.3,506.5 858.8,505.4 859.3,504.4 859.8,503.7 860.3,503.5 860.8,503.8 861.3,504.5 861.8,505.6 862.3,506.9 862.8,508 863.3,508.9 863.8,509.4 864.3,509.6 864.8,509.4 865.3,509.1 865.8,508.8 866.3,508.5 866.8,508.4 867.3,508.4 867.8,508.2 868.3,507.9 868.8,507.3 869.3,506.3 869.8,505.1 870.3,503.8 870.8,502.7 871.3,502.1 871.8,502.2 872.3,503 872.8,504.7 873.3,506.8 873.8,509 874.3,511 874.8,512.3 875.3,512.8 875.8,512.2 876.3,510.8 876.8,508.9 877.3,506.7 877.8,504.7 878.3,503.3 878.8,502.7 879.3,502.9 879.8,503.9 880.3,505.3 880.8,507 881.3,508.4 881.8,509.5 882.3,509.9 882.8,509.8 883.3,509.1 883.8,508.1 884.3,507 884.8,505.9 885.3,505.2 885.8,504.8 886.3,504.8 886.8,505.2 887.3,505.9 887.8,506.7 888.3,507.4 888.8,508 889.3,508.5 889.8,508.6 890.3,508.6 890.8,508.4 891.3,508.1 891.8,507.6 892.3,507.2 892.8,506.8 893.3,506.4 893.8,506 894.3,505.7 894.8,505.5 895.3,505.3 895.8,505.4 896.3,505.5 896.8,505.9 897.3,506.5 897.8,507.2 898.3,508 898.8,508.9 899.3,509.6 899.8,510.1 900.3,510.2 900.8,509.9 901.3,509.1 901.8,507.9 902.3,506.5 902.8,504.9 903.3,503.5 903.8,502.4 904.3,502 904.8,502.1 905.3,503 905.8,504.5 906.3,506.3 906.8,508.3 907.3,510.1 907.8,511.6 908.3,512.4 908.8,512.5 909.3,511.9 909.8,510.8 910.3,509.4 910.8,507.9 911.3,506.5 911.8,505.3 912.3,504.5 912.8,503.9 913.3,503.7 913.8,503.6 914.3,503.6 914.8,503.7 915.3,503.9 915.8,504.1 916.3,504.5 916.8,505.1 917.3,506 917.8,507.2 918.3,508.7 918.8,510.3 919.3,511.9 919.8,513.2 920.3,514 920.8,514.2 921.3,513.7 921.8,512.3 922.3,510.2 922.8,507.5 923.3,504.3 923.8,501.1 924.3,498.3 924.8,496.4 925.3,495.5 925.8,495.9 926.3,497.7 926.8,500.6 927.3,504.5 927.8,508.9 928.3,513.1 928.8,516.6 929.3,518.9 929.8,519.7 930.3,518.8 930.8,516.3 931.3,512.8 931.8,508.6 932.3,504.5 932.8,501.1 933.3,498.8 933.8,498 934.3,498.6 934.8,500.3 935.3,502.8 935.8,505.5 936.3,507.8 936.8,509.4 937.3,509.9 937.8,509.6 938.3,508.6 938.8,507.4 939.3,506.4 939.8,505.9 940.3,506.1 940.8,506.9 941.3,508.1 941.8,509.4 942.3,510.5 942.8,511 943.3,510.8 943.8,509.9 944.3,508.3 944.8,506.4 945.3,504.5 945.8,502.9 946.3,501.9 946.8,501.6 947.3,502.2 947.8,503.4 948.3,505.2 948.8,507.2 949.3,509.1 949.8,510.7 950.3,511.7 950.8,512.1 951.3,511.7 951.8,510.7 952.3,509.2 952.8,507.5 953.3,505.8 953.8,504.3 954.3,503.3 954.8,502.8 955.3,502.8 955.8,503.4 956.3,504.5 956.8,505.8 957.3,507.2 957.8,508.5 958.3,509.5 958.8,510.2 959.3,510.4 959.8,510.2 960.3,509.7 960.8,508.8 961.3,507.9 961.8,506.9 962.3,506 962.8,505.3 963.3,504.8 963.8,504.5 964.3,504.4 964.8,504.6 965.3,504.9 965.8,505.3 966.3,505.9 966.8,506.6 967.3,507.4 967.8,508.2 968.3,509 968.8,509.7 969.3,510.2 969.8,510.3 970.3,510.2 970.8,509.6 971.3,508.6 971.8,507.4 972.3,506 972.8,504.7 973.3,503.6 973.8,503 974.3,502.9 974.8,503.4 975.3,504.4 975.8,505.8 976.3,507.3 976.8,508.7 977.3,509.9 977.8,510.5 978.3,510.6 978.8,510.1 979.3,509.2 979.8,508 980.3,506.7 980.8,505.6 981.3,504.7 981.8,504.3 982.3,504.3 982.8,504.7 983.3,505.3 983.8,506.1 984.3,507 984.8,507.8 985.3,508.5 985.8,509 986.3,509.3 986.8,509.4 987.3,509.4 987.8,509.1 988.3,508.6 988.8,508 989.3,507.1 989.8,506.2 990.3,505.2 990.8,504.2 991.3,503.4 991.8,503 992.3,502.9 992.8,503.4 993.3,504.3 993.8,505.7 994.3,507.4 994.8,509.1 995.3,510.7 995.8,512 996.3,512.7 996.8,512.7 997.3,512 997.8,510.7 998.3,508.8 998.8,506.6 999.3,504.5 999.8,502.6 1000.3,501.2 1000.8,500.6 1001.3,500.9 1001.8,502 1002.3,503.8 1002.8,506 1003.3,508.4 1003.8,510.6 1004.3,512.2 1004.8,513.1 1005.3,513.2 1005.8,512.3 1006.3,510.7 1006.8,508.6 1007.3,506.3 1007.8,504.1 1008.3,502.4 1008.8,501.3 1009.3,501.1 1009.8,501.6 1010.3,502.9 1010.8,504.8 1011.3,506.9 1011.8,509 1012.3,510.8 1012.8,512 1013.3,512.6 1013.8,512.4 1014.3,511.6 1014.8,510.1 1015.3,508.2 1015.8,506.2 1016.3,504.2 1016.8,502.5 1017.3,501.4 1017.8,501 1018.3,501.4 1018.8,502.6 1019.3,504.5 1019.8,506.9 1020.3,509.4 1020.8,511.8 1021.3,513.6 1021.8,514.6 1022.3,514.5 1022.8,513.3 1023.3,511 1023.8,507.9 1024.3,504.4 1024.8,501.1 1025.3,498.4 1025.8,496.8 1026.3,496.7 1026.8,498.1 1027.3,501 1027.8,504.9 1028.3,509.3 1028.8,513.6 1029.3,517 1029.8,519 1030.3,519.3 1030.8,517.9 1031.3,514.9 1031.8,510.7 1032.3,506.1 1032.8,501.7 1033.3,498.2 1033.8,496.1 1034.3,495.6 1034.8,496.8 1035.3,499.4 1035.8,502.9 1036.3,506.7 1036.8,510.3 1037.3,513 1037.8,514.5 1038.3,514.7 1038.8,513.7 1039.3,511.8 1039.8,509.3 1040.3,506.7 1040.8,504.4 1041.3,502.9 1041.8,502.3 1042.3,502.6 1042.8,503.6 1043.3,505.2 1043.8,507 1044.3,508.6 1044.8,509.9 1045.3,510.6 1045.8,510.6 1046.3,510.1 1046.8,509.1 1047.3,507.9 1047.8,506.6 1048.3,505.5 1048.8,504.6 1049.3,504.1 1049.8,504 1050.3,504.3 1050.8,504.8 1051.3,505.4 1051.8,506.1 1052.3,506.8 1052.8,507.4 1053.3,508 1053.8,508.4 1054.3,508.8 1054.8,509.1 1055.3,509.2 1055.8,509.3 1056.3,509.2 1056.8,508.9 1057.3,508.4 1057.8,507.7 1058.3,506.9 1058.8,506.9 1059.3,506.9 1059.8,506.9 1060.3,506.8 1060.8,506.7 1061.3,506.6 1061.8,506.3 1062.3,506.1 1062.8,505.9 1063.3,505.6 1063.8,505.4 1064.3,505.3 1064.8,505.3 1065.3,505.7 1065.8,506.6 1066.3,507.7 1066.8,508.8 1067.3,509.6 1067.8,510 1068.3,509.7 1068.8,508.7 1069.3,507.3 1069.8,505.7 1070.3,504.1 1070.8,502.7 1071.3,501.7 1071.8,501.4 1072.3,501.9 1072.8,503.1 1073.3,504.8 1073.8,506.8 1074.3,508.6 1074.8,510.2 1075.3,511.3 1075.8,511.5 1076.3,510.8 1076.8,509.4 1077.3,507.5 1077.8,505.4 1078.3,503.4 1078.8,501.8 1079.3,500.8 1079.8,500.7 1080.3,501.4 1080.8,502.7 1081.3,504.3 1081.8,506.1 1082.3,507.8 1082.8,509.1 1083.3,509.9 1083.8,509.9 1084.3,509.1 1084.8,507.7 1085.3,506.3 1085.8,504.9 1086.3,504 1086.8,503.8 1087.3,504.5 1087.8,505.9 1088.3,507.9 1088.8,509.9 1089.3,511.9 1089.8,513.6 1090.3,514.5 1090.8,514.6 1091.3,513.8 1091.8,512.4 1092.3,510.4 1092.8,508 1093.3,505.5 1093.8,502.9 1094.3,500.5 1094.8,498.5 1095.3,496.9 1095.8,496 1096.3,496.2 1096.8,499 1097.3,503.8 1097.8,509.4 1098.3,514.6 1098.8,518.3 1099.3,519.4 1099.8,519.1 1100.3,518.4 1100.8,517.4 1101.3,516 1101.8,514.5 1102.3,512.8 1102.8,511 1103.3,509.1 1103.8,507.3 1104.3,505.2 1104.8,502.4 1105.3,499 1105.8,495.5 1106.3,492.1 1106.8,489.3 1107.3,487.3 1107.8,486.5 1108.3,487.7 1108.8,491.5 1109.3,497 1109.8,503.3 1110.3,509.6 1110.8,515.1 1111.3,518.9 1111.8,520.2 1112.3,520.1 1112.8,519.7 1113.3,519.2 1113.8,518.5 1114.3,517.6 1114.8,516.7 1115.3,515.7 1115.8,514.6 1116.3,513.5 1116.8,512.3 1117.3,510.4 1117.8,508 1118.3,505.3 1118.8,502.6 1119.3,499.9 1119.8,497.6 1120.3,495.7 1120.8,494.6 1121.3,494.3 1121.8,495 1122.3,496.4 1122.8,498.5 1123.3,501.1 1123.8,504.1 1124.3,507.3 1124.8,510.6 1125.3,513.9 1125.8,517.1 1126.3,519.9 1126.8,522.3 1127.3,524.2 1127.8,525.3 1128.3,525.7 1128.8,523.7 1129.3,519.3 1129.8,513.3 1130.3,506.6 1130.8,500.1 1131.3,494.7 1131.8,491.2 1132.3,490.4 1132.8,490.7 1133.3,491.4 1133.8,492.5 1134.3,493.7 1134.8,495.2 1135.3,496.8 1135.8,498.5 1136.3,500.3 1136.8,502 1137.3,503.9 1137.8,506.3 1138.3,509.2 1138.8,512.4 1139.3,515.7 1139.8,519 1140.3,522 1140.8,524.7 1141.3,526.8 1141.8,528.2 1142.3,528.8 1142.8,528.3 1143.3,526.5 1143.8,523.7 1144.3,520 1144.8,515.6 1145.3,510.7 1145.8,505.3 1146.3,499.8 1146.8,494.2 1147.3,488.7 1147.8,483.6 1148.3,478.9 1148.8,474.8 1149.3,471.5 1149.8,469.2 1150.3,468.1 1150.8,469.2 1151.3,476.1 1151.8,487.5 1152.3,501.8 1152.8,517.3 1153.3,532.2 1153.8,545.1 1154.3,554 1154.8,557.5 1155.3,554.6 1155.8,546.6 1156.3,534.7 1156.8,520.5 1157.3,505.2 1157.8,490.2 1158.3,476.9 1158.8,466.6 1159.3,460.8 1159.8,460.6 1160.3,465.7 1160.8,474.7 1161.3,486.7 1161.8,500.3 1162.3,514.5 1162.8,528.1 1163.3,540 1163.8,548.9 1164.3,553.7 1164.8,553.3 1165.3,547.1 1165.8,536.5 1166.3,522.9 1166.8,507.6 1167.3,492 1167.8,477.6 1168.3,465.7 1168.8,457.7 1169.3,455 1169.8,459.9 1170.3,471.6 1170.8,487.7 1171.3,505.8 1171.8,523.5 1172.3,538.3 1172.8,547.8 1173.3,549.6 1173.8,544.1 1174.3,533.3 1174.8,519.4 1175.3,504.3 1175.8,490 1176.3,478.6 1176.8,472 1177.3,472.2 1177.8,478.7 1178.3,489.6 1178.8,502.8 1179.3,516.3 1179.8,528 1180.3,535.9 1180.8,538 1181.3,534.4 1181.8,526.9 1182.3,517 1182.8,506 1183.3,495.5 1183.8,487 1184.3,481.8 1184.8,481.5 1185.3,487.2 1185.8,497 1186.3,508.5 1186.8,519.7 1187.3,528.1 1187.8,531.6 1188.3,529.2 1188.8,522.5 1189.3,513.1 1189.8,502.6 1190.3,492.6 1190.8,484.6 1191.3,480.2 1191.8,481.2 1192.3,488.3 1192.8,499.2 1193.3,511.6 1193.8,523.1 1194.3,531.2 1194.8,533.7 1195.3,531.1 1195.8,525.2 1196.3,517.1 1196.8,507.8 1197.3,498.4 1197.8,489.8 1198.3,483 1198.8,479.2 1199.3,479.4 1199.8,484.1 1200.3,492.1 1200.8,502.3 1201.3,513.4 1201.8,524.3 1202.3,533.8 1202.8,540.5 1203.3,543.4 1203.8,540.3 1204.3,530.5 1204.8,516.4 1205.3,500.5 1205.8,485.1 1206.3,472.7 1206.8,465.6 1207.3,466.2 1207.8,475.5 1208.3,490.4 1208.8,508.1 1209.3,525.5 1209.8,539.5 1210.3,547.2 1210.8,546 1211.3,537.6 1211.8,524.4 1212.3,508.7 1212.8,493 1213.3,479.6 1213.8,471 1214.3,469.5 1214.8,476.1 1215.3,488.3 1215.8,503.1 1216.3,517.8 1216.8,529.3 1217.3,534.7 1217.8,532.7 1218.3,525.7 1218.8,515.9 1219.3,505.2 1219.8,495.8 1220.3,489.7 1220.8,488.6 1221.3,490.6 1221.8,494.2 1222.3,499 1222.8,504.4 1223.3,509.7 1223.8,514.4 1224.3,517.9 1224.8,519.7 1225.3,519.1 1225.8,516.7 1226.3,512.7 1226.8,507.7 1227.3,502.1 1227.8,496.5 1228.3,491.2 1228.8,486.7 1229.3,483.5 1229.8,482 1230.3,484.3 1230.8,492.3 1231.3,503.7 1231.8,516.1 1232.3,527.1 1232.8,534.4 1233.3,535.4 1233.8,529.3 1234.3,518.2 1234.8,504.8 1235.3,491.6 1235.8,481.4 1236.3,476.7 1236.8,478.7 1237.3,485.5 1237.8,495.3 1238.3,506.4 1238.8,517.1 1239.3,525.9 1239.8,531 1240.3,530.7 1240.8,525.2 1241.3,516.2 1241.8,505.8 1242.3,496 1242.8,488.9 1243.3,486.3 1243.8,488.7 1244.3,494.3 1244.8,501.7 1245.3,509.3 1245.8,515.7 1246.3,519.4 1246.8,519.5 1247.3,518.1 1247.8,515.8 1248.3,512.9 1248.8,509.7 1249.3,506.6 1249.8,504 1250.3,502.1 1250.8,501.4 1251.3,502.4 1251.8,505.1 1252.3,509 1252.8,513.7 1253.3,518.5 1253.8,523.1 1254.3,526.7 1254.8,529 1255.3,529.3 1255.8,526.6 1256.3,521.3 1256.8,514.4 1257.3,506.7 1257.8,498.9 1258.3,492.1 1258.8,486.9 1259.3,484.3 1259.8,485.9 1260.3,493.5 1260.8,504.9 1261.3,517.5 1261.8,529 1262.3,537 1262.8,539 1263.3,534.2 1263.8,524.6 1264.3,512.1 1264.8,498.8 1265.3,486.5 1265.8,477.4 1266.3,473.4 1266.8,477.5 1267.3,489.6 1267.8,505.5 1268.3,521.1 1268.8,532.1 1269.3,534.5 1269.8,529.4 1270.3,519.8 1270.8,507.8 1271.3,496 1271.8,486.7 1272.3,482.1 1272.8,484 1273.3,491 1273.8,501.1 1274.3,512 1274.8,521.7 1275.3,528.1 1275.8,529.1 1276.3,524.4 1276.8,516 1277.3,505.7 1277.8,495.7 1278.3,487.8 1278.8,484.2 1279.3,486.3 1279.8,492.8 1280.3,502 1280.8,511.9 1281.3,520.6 1281.8,526.2 1282.3,526.7 1282.8,520.8 1283.3,510.9 1283.8,499.7 1284.3,490.3 1284.8,485.4 1285.3,486.5 1285.8,491.3 1286.3,498.4 1286.8,506.7 1287.3,514.8 1287.8,521.5 1288.3,525.6 1288.8,525.7 1289.3,521.7 1289.8,514.8 1290.3,506.7 1290.8,498.9 1291.3,493 1291.8,490.6 1292.3,492.5 1292.8,497.3 1293.3,503.9 1293.8,510.8 1294.3,516.7 1294.8,520.3 1295.3,520.3 1295.8,516.5 1296.3,510.4 1296.8,503.2 1297.3,496.5 1297.8,491.4 1298.3,489.5 1298.8,490.9 1299.3,494.5 1299.8,499.6 1300.3,505.6 1300.8,511.7 1301.3,517.4 1301.8,521.9 1302.3,524.6 1302.8,523.8 1303.3,512.1 1303.8,496.3 1304.3,486.5 1304.8,483.8 1305.3,481.5 1305.8,479.4 1306.3,477.6 1306.8,476 1307.3,474.6 1307.8,473.5 1308.3,472.6 1308.8,472 1309.3,471.5 1309.8,471.2 1310.3,471.6 1310.8,477.9 1311.3,490.5 1311.8,507.6 1312.3,527.3 1312.8,548 1313.3,556" stroke="#cccc00" stroke-width="2.4"/>
</g>
<g fill="#c0c0c0">
<rect x="1151" y="603.2" width="162" height="4.5"/>
<rect x="1149" y="598.5" width="4.2" height="14.1"/>
<rect x="1311" y="598.5" width="4.2" height="14.1"/>
</g>
<g stroke="#c0c0c0" stroke-width="2.3" fill="none">
<line x1="227.6" y1="493.5" x2="227.6" y2="519.7"/>
<line x1="220.4" y1="493.5" x2="234.9" y2="493.5"/>
<line x1="220.4" y1="519.7" x2="234.9" y2="519.7"/>
</g>
<circle cx="227.6" cy="506.8" r="4.3" fill="#000"/>
<path d="M179.3 110.6v-11.5M179.3 902.7v11.5M341.3 110.6v-11.5M341.3 902.7v11.5M503.3 110.6v-11.5M503.3 902.7v11.5M665.3 110.6v-11.5M665.3 902.7v11.5M827.3 110.6v-11.5M827.3 902.7v11.5M989.3 110.6v-11.5M989.3 902.7v11.5M1151.3 110.6v-11.5M1151.3 902.7v11.5M1313.3 110.6v-11.5M1313.3 902.7v11.5M1475.3 110.6v-11.5M1475.3 902.7v11.5M179.3 902.7h-12.0M179.3 770.7h-12.0M179.3 638.7h-12.0M179.3 506.6h-12.0M179.3 374.6h-12.0M179.3 242.6h-12.0M179.3 110.6h-12.0M1475.3 176.4h11.0M1475.3 242.5h11.0M1475.3 308.6h11.0M1475.3 374.7h11.0M1475.3 440.8h11.0M1475.3 572.3h11.0M1475.3 638.3h11.0M1475.3 704.4h11.0M1475.3 770.5h11.0M1475.3 836.5h11.0M1475.3 902.5h11.0" stroke="#000" stroke-width="1.7" fill="none"/>
<path d="M195.5 110.6v-5.8M195.5 902.7v5.8M211.7 110.6v-5.8M211.7 902.7v5.8M227.9 110.6v-5.8M227.9 902.7v5.8M244.1 110.6v-5.8M244.1 902.7v5.8M260.3 110.6v-5.8M260.3 902.7v5.8M276.5 110.6v-5.8M276.5 902.7v5.8M292.7 110.6v-5.8M292.7 902.7v5.8M308.9 110.6v-5.8M308.9 902.7v5.8M325.1 110.6v-5.8M325.1 902.7v5.8M357.5 110.6v-5.8M357.5 902.7v5.8M373.7 110.6v-5.8M373.7 902.7v5.8M389.9 110.6v-5.8M389.9 902.7v5.8M406.1 110.6v-5.8M406.1 902.7v5.8M422.3 110.6v-5.8M422.3 902.7v5.8M438.5 110.6v-5.8M438.5 902.7v5.8M454.7 110.6v-5.8M454.7 902.7v5.8M470.9 110.6v-5.8M470.9 902.7v5.8M487.1 110.6v-5.8M487.1 902.7v5.8M519.5 110.6v-5.8M519.5 902.7v5.8M535.7 110.6v-5.8M535.7 902.7v5.8M551.9 110.6v-5.8M551.9 902.7v5.8M568.1 110.6v-5.8M568.1 902.7v5.8M584.3 110.6v-5.8M584.3 902.7v5.8M600.5 110.6v-5.8M600.5 902.7v5.8M616.7 110.6v-5.8M616.7 902.7v5.8M632.9 110.6v-5.8M632.9 902.7v5.8M649.1 110.6v-5.8M649.1 902.7v5.8M681.5 110.6v-5.8M681.5 902.7v5.8M697.7 110.6v-5.8M697.7 902.7v5.8M713.9 110.6v-5.8M713.9 902.7v5.8M730.1 110.6v-5.8M730.1 902.7v5.8M746.3 110.6v-5.8M746.3 902.7v5.8M762.5 110.6v-5.8M762.5 902.7v5.8M778.7 110.6v-5.8M778.7 902.7v5.8M794.9 110.6v-5.8M794.9 902.7v5.8M811.1 110.6v-5.8M811.1 902.7v5.8M843.5 110.6v-5.8M843.5 902.7v5.8M859.7 110.6v-5.8M859.7 902.7v5.8M875.9 110.6v-5.8M875.9 902.7v5.8M892.1 110.6v-5.8M892.1 902.7v5.8M908.3 110.6v-5.8M908.3 902.7v5.8M924.5 110.6v-5.8M924.5 902.7v5.8M940.7 110.6v-5.8M940.7 902.7v5.8M956.9 110.6v-5.8M956.9 902.7v5.8M973.1 110.6v-5.8M973.1 902.7v5.8M1005.5 110.6v-5.8M1005.5 902.7v5.8M1021.7 110.6v-5.8M1021.7 902.7v5.8M1037.9 110.6v-5.8M1037.9 902.7v5.8M1054.1 110.6v-5.8M1054.1 902.7v5.8M1070.3 110.6v-5.8M1070.3 902.7v5.8M1086.5 110.6v-5.8M1086.5 902.7v5.8M1102.7 110.6v-5.8M1102.7 902.7v5.8M1118.9 110.6v-5.8M1118.9 902.7v5.8M1135.1 110.6v-5.8M1135.1 902.7v5.8M1167.5 110.6v-5.8M1167.5 902.7v5.8M1183.7 110.6v-5.8M1183.7 902.7v5.8M1199.9 110.6v-5.8M1199.9 902.7v5.8M1216.1 110.6v-5.8M1216.1 902.7v5.8M1232.3 110.6v-5.8M1232.3 902.7v5.8M1248.5 110.6v-5.8M1248.5 902.7v5.8M1264.7 110.6v-5.8M1264.7 902.7v5.8M1280.9 110.6v-5.8M1280.9 902.7v5.8M1297.1 110.6v-5.8M1297.1 902.7v5.8M1329.5 110.6v-5.8M1329.5 902.7v5.8M1345.7 110.6v-5.8M1345.7 902.7v5.8M1361.9 110.6v-5.8M1361.9 902.7v5.8M1378.1 110.6v-5.8M1378.1 902.7v5.8M1394.3 110.6v-5.8M1394.3 902.7v5.8M1410.5 110.6v-5.8M1410.5 902.7v5.8M1426.7 110.6v-5.8M1426.7 902.7v5.8M1442.9 110.6v-5.8M1442.9 902.7v5.8M1459.1 110.6v-5.8M1459.1 902.7v5.8M179.3 836.7h-6.0M179.3 704.7h-6.0M179.3 572.7h-6.0M179.3 440.6h-6.0M179.3 308.6h-6.0M179.3 176.6h-6.0M1475.3 126.8h5.5M1475.3 143.4h5.5M1475.3 159.9h5.5M1475.3 192.9h5.5M1475.3 209.4h5.5M1475.3 226.0h5.5M1475.3 259.0h5.5M1475.3 275.6h5.5M1475.3 292.1h5.5M1475.3 325.1h5.5M1475.3 341.6h5.5M1475.3 358.2h5.5M1475.3 391.2h5.5M1475.3 407.8h5.5M1475.3 424.3h5.5M1475.3 457.3h5.5M1475.3 473.9h5.5M1475.3 490.4h5.5M1475.3 519.5h5.5M1475.3 532.7h5.5M1475.3 545.9h5.5M1475.3 559.1h5.5M1475.3 585.5h5.5M1475.3 598.7h5.5M1475.3 611.9h5.5M1475.3 625.1h5.5M1475.3 651.6h5.5M1475.3 664.8h5.5M1475.3 678.0h5.5M1475.3 691.2h5.5M1475.3 717.6h5.5M1475.3 730.8h5.5M1475.3 744.0h5.5M1475.3 757.2h5.5M1475.3 783.7h5.5M1475.3 796.9h5.5M1475.3 810.1h5.5M1475.3 823.3h5.5M1475.3 849.7h5.5M1475.3 862.9h5.5M1475.3 876.1h5.5M1475.3 889.3h5.5" stroke="#000" stroke-width="1.35" fill="none"/>
<rect x="179.3" y="110.6" width="1296.0" height="792.1" fill="none" stroke="#000" stroke-width="2.4"/>
<g stroke="#009a9a" stroke-opacity="0.6" stroke-width="2"><line x1="1362" y1="110.4" x2="1362" y2="506.5"/><line x1="1345.3" y1="110.6" x2="1378.2" y2="110.6"/><line x1="1345.3" y1="506.3" x2="1378.2" y2="506.3"/><line x1="1362" y1="150.0" x2="1370" y2="150.0"/><line x1="1362" y1="189.6" x2="1370" y2="189.6"/><line x1="1362" y1="229.2" x2="1370" y2="229.2"/><line x1="1362" y1="268.8" x2="1370" y2="268.8"/><line x1="1362" y1="348.1" x2="1370" y2="348.1"/><line x1="1362" y1="387.7" x2="1370" y2="387.7"/><line x1="1362" y1="427.3" x2="1370" y2="427.3"/><line x1="1362" y1="466.9" x2="1370" y2="466.9"/></g>
<rect x="183" y="18.5" width="372.3" height="162.9" fill="#fff" stroke="#888" stroke-width="1.2"/>
<line x1="220" y1="39.3" x2="276" y2="39.3" stroke="#4040ff" stroke-width="1.2"/><circle cx="248" cy="39.3" r="4.2" fill="#0000ff"/><line x1="220" y1="69.3" x2="276" y2="69.3" stroke="#30d0d0" stroke-width="1.2"/><circle cx="248" cy="69.3" r="4.2" fill="#00c8c8"/><line x1="220" y1="100" x2="276" y2="100" stroke="#000" stroke-width="2.6"/><line x1="220" y1="130.4" x2="276" y2="130.4" stroke="#bbb" stroke-width="2.8"/><line x1="220" y1="161.4" x2="276" y2="161.4" stroke="#ff4040" stroke-width="1.2"/><circle cx="248.2" cy="161.4" r="4.2" fill="#ff0000"/>
<g style="opacity:0.999">
<g font-size="24"><text transform="translate(156 912.3) scale(1 1.050)" text-anchor="end">−600</text><text transform="translate(156 780.3) scale(1 1.050)" text-anchor="end">−400</text><text transform="translate(156 648.3) scale(1 1.050)" text-anchor="end">−200</text><text transform="translate(156 516.2) scale(1 1.050)" text-anchor="end">0</text><text transform="translate(156 384.2) scale(1 1.050)" text-anchor="end">200</text><text transform="translate(156 252.2) scale(1 1.050)" text-anchor="end">400</text><text transform="translate(156 120.2) scale(1 1.050)" text-anchor="end">600</text><text transform="translate(179.3 944.2) scale(1 1.050)" text-anchor="middle">−10</text><text transform="translate(341.3 944.2) scale(1 1.050)" text-anchor="middle">0</text><text transform="translate(503.3 944.2) scale(1 1.050)" text-anchor="middle">10</text><text transform="translate(665.3 944.2) scale(1 1.050)" text-anchor="middle">20</text><text transform="translate(827.3 944.2) scale(1 1.050)" text-anchor="middle">30</text><text transform="translate(989.3 944.2) scale(1 1.050)" text-anchor="middle">40</text><text transform="translate(1151.3 944.2) scale(1 1.050)" text-anchor="middle">50</text><text transform="translate(1313.3 944.2) scale(1 1.050)" text-anchor="middle">60</text><text transform="translate(1475.3 944.2) scale(1 1.050)" text-anchor="middle">70</text><text transform="translate(1498 186.0) scale(1 1.050)">997.2</text><text transform="translate(1498 252.1) scale(1 1.050)">996.8</text><text transform="translate(1498 318.2) scale(1 1.050)">996.4</text><text transform="translate(1498 384.3) scale(1 1.050)">996.0</text><text transform="translate(1498 450.4) scale(1 1.050)">995.6</text><text transform="translate(1565 581.9) scale(1 1.050)" text-anchor="end">1000</text><text transform="translate(1565 647.9) scale(1 1.050)" text-anchor="end">500</text><text transform="translate(1565 714.0) scale(1 1.050)" text-anchor="end">0</text><text transform="translate(1565 780.1) scale(1 1.050)" text-anchor="end">−500</text><text transform="translate(1565 846.1) scale(1 1.050)" text-anchor="end">−1000</text><text transform="translate(1565 912.1) scale(1 1.050)" text-anchor="end">−1500</text></g>
<text transform="translate(558 991) scale(1 1.050)" font-size="28">Time [min] from 2019−11−04 22:00:00 UTC</text>
<text transform="translate(73.6 507.2) rotate(-90) scale(1 1.050)" text-anchor="middle" font-size="28">Obs’d Gravity [nm/s<tspan font-size="19.6" dy="-10">2</tspan><tspan dy="10">]</tspan></text>
<text transform="translate(1607 309.2) rotate(-90) scale(1 1.050)" text-anchor="middle" font-size="28">Pressure [hPa]</text>
<text transform="translate(1614 704.3) rotate(-90) scale(1 1.050)" text-anchor="middle" font-size="28">Tide [nm/s<tspan font-size="19.6" dy="-10">2</tspan><tspan dy="10">]</tspan></text>
<text transform="translate(260.2 604.4) rotate(-90) scale(1 1.050)" font-size="24.4">Typical noise level</text>
<text transform="translate(1403 404.6) rotate(-90) scale(1 1.050)" font-size="24">1 DIV = 0.5 hPa/h</text>
<text transform="translate(1444 404.4) rotate(-90) scale(1 1.050)" font-size="24.3">average = 0.2005</text>
<text class="b" transform="translate(208 887.7) scale(1 1.050)" font-size="28">The requested 1−hour, 1−second sampling</text>
<text class="b" transform="translate(1446 887.7) scale(1 1.050)" font-size="28" text-anchor="end">End at 2019−11−04 22:59:59 UTC</text>
<text class="b" transform="translate(575.4 82.9) scale(1 1.08)" font-size="32.3">SCG_054 gravimeter Onsala Space Observatory, Sweden</text>
<g font-size="24"><text transform="translate(295.2 48.1) scale(1 1.050)">Pressure</text><text transform="translate(295.2 78.1) scale(1 1.050)">dP/dt range ±0.3 hPa/s</text><text transform="translate(295.2 108.5) scale(1 1.050)">Residual</text><text transform="translate(295.2 138.9) scale(1 1.050)">... last 10 min.</text><text transform="translate(295.2 169.2) scale(1 1.050)">Theor.Tide</text></g>
</g>
</svg>
</body></html>
